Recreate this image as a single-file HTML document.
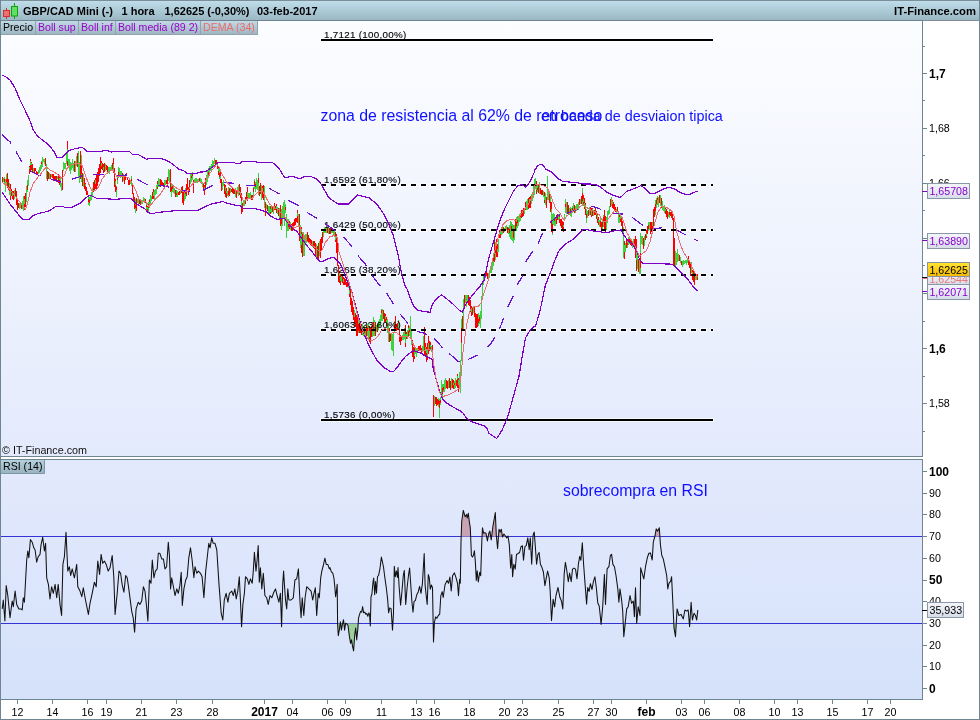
<!DOCTYPE html>
<html><head><meta charset="utf-8"><title>GBP/CAD Mini</title>
<style>
html,body{margin:0;padding:0;background:#fff;}
body{width:980px;height:720px;overflow:hidden;position:relative;font-family:"Liberation Sans",Arial,sans-serif;}
svg{position:absolute;left:0;top:0;display:block;}
text{font-family:"Liberation Sans",Arial,sans-serif;}
.hd{font-size:11px;font-weight:bold;fill:#000;}
.lg{font-size:10.6px;}
.an{font-size:10.67px;fill:#000;}
.ab{font-size:12px;font-weight:bold;fill:#000;}
.xn{font-size:10.67px;fill:#000;}
.xb{font-size:12px;font-weight:bold;fill:#000;}
.fib{font-size:9.8px;letter-spacing:0.3px;fill:#000;stroke:#000;stroke-width:0.12px;}
.note{fill:#1010ff;}
</style></head><body>
<svg width="980" height="720" viewBox="0 0 980 720" shape-rendering="auto">
<defs>
<linearGradient id="hdr" x1="0" y1="0" x2="0" y2="1">
<stop offset="0" stop-color="#c0deeb"/><stop offset="1" stop-color="#99b5c2"/></linearGradient>
<linearGradient id="leg" x1="0" y1="0" x2="0" y2="1">
<stop offset="0" stop-color="#c2dae6"/><stop offset="1" stop-color="#9cb4c0"/></linearGradient>
<linearGradient id="leg2" x1="0" y1="0" x2="0" y2="1">
<stop offset="0" stop-color="#b4d0dc"/><stop offset="1" stop-color="#98b3bf"/></linearGradient>
<linearGradient id="main" x1="0" y1="0" x2="0" y2="1">
<stop offset="0" stop-color="#fcfdff"/><stop offset="1" stop-color="#e3eafc"/></linearGradient>
<linearGradient id="rsi" x1="0" y1="0" x2="0" y2="1">
<stop offset="0" stop-color="#e3e9fd"/><stop offset="1" stop-color="#d5e2fa"/></linearGradient>
<linearGradient id="gold" x1="0" y1="0" x2="0" y2="1">
<stop offset="0" stop-color="#ffe433"/><stop offset="1" stop-color="#f5ba00"/></linearGradient>
<linearGradient id="lbl" x1="0" y1="0" x2="0" y2="1">
<stop offset="0" stop-color="#f4f6fb"/><stop offset="1" stop-color="#d6dde8"/></linearGradient>
</defs>
<rect x="0" y="0" width="980" height="720" fill="#fff"/>
<!-- header -->
<rect x="0" y="0" width="980" height="21" fill="url(#hdr)"/>
<line x1="0" y1="0.5" x2="980" y2="0.5" stroke="#7c8f99"/>
<line x1="0" y1="20.5" x2="980" y2="20.5" stroke="#7c8f99"/>
<!-- main panel -->
<rect x="1" y="21" width="921" height="435" fill="url(#main)"/>
<!-- rsi panel -->
<rect x="1" y="460" width="921" height="239" fill="url(#rsi)"/>
<line x1="320" y1="40" x2="714" y2="40" stroke="#fff" stroke-opacity="0.7" stroke-width="4"/><line x1="320" y1="185" x2="714" y2="185" stroke="#fff" stroke-opacity="0.7" stroke-width="4" stroke-dasharray="7 3"/><line x1="320" y1="230" x2="714" y2="230" stroke="#fff" stroke-opacity="0.7" stroke-width="4" stroke-dasharray="7 3"/><line x1="320" y1="275" x2="714" y2="275" stroke="#fff" stroke-opacity="0.7" stroke-width="4" stroke-dasharray="7 3"/><line x1="320" y1="330" x2="714" y2="330" stroke="#fff" stroke-opacity="0.7" stroke-width="4" stroke-dasharray="7 3"/><line x1="320" y1="420" x2="714" y2="420" stroke="#fff" stroke-opacity="0.7" stroke-width="4"/>
<!-- candles -->
<g shape-rendering="crispEdges"><rect x="2" y="177" width="1" height="6" fill="#ff0000"/>
<rect x="3" y="178" width="1" height="4" fill="#3fd23f"/>
<rect x="4" y="177" width="1" height="7" fill="#3fd23f"/>
<rect x="4" y="179" width="1" height="3" fill="#ff0000"/>
<rect x="5" y="179" width="1" height="13" fill="#3fd23f"/>
<rect x="6" y="174" width="1" height="12" fill="#3fd23f"/>
<rect x="6" y="179" width="1" height="3" fill="#ff0000"/>
<rect x="7" y="173" width="1" height="15" fill="#ff0000"/>
<rect x="8" y="179" width="1" height="11" fill="#ff0000"/>
<rect x="9" y="183" width="1" height="12" fill="#3fd23f"/>
<rect x="9" y="187" width="1" height="4" fill="#ff0000"/>
<rect x="10" y="184" width="1" height="16" fill="#ff0000"/>
<rect x="10" y="190" width="1" height="6" fill="#3fd23f"/>
<rect x="11" y="189" width="1" height="7" fill="#ff0000"/>
<rect x="12" y="191" width="1" height="8" fill="#ff0000"/>
<rect x="12" y="193" width="1" height="3" fill="#3fd23f"/>
<rect x="13" y="191" width="1" height="9" fill="#ff0000"/>
<rect x="14" y="190" width="1" height="9" fill="#3fd23f"/>
<rect x="15" y="188" width="1" height="9" fill="#ff0000"/>
<rect x="16" y="191" width="1" height="14" fill="#ff0000"/>
<rect x="17" y="198" width="1" height="12" fill="#ff0000"/>
<rect x="18" y="203" width="1" height="5" fill="#ff0000"/>
<rect x="19" y="203" width="1" height="6" fill="#3fd23f"/>
<rect x="20" y="203" width="1" height="5" fill="#3fd23f"/>
<rect x="21" y="204" width="1" height="5" fill="#ff0000"/>
<rect x="22" y="201" width="1" height="8" fill="#3fd23f"/>
<rect x="23" y="196" width="1" height="15" fill="#3fd23f"/>
<rect x="24" y="196" width="1" height="14" fill="#ff0000"/>
<rect x="24" y="199" width="1" height="5" fill="#3fd23f"/>
<rect x="25" y="193" width="1" height="14" fill="#ff0000"/>
<rect x="26" y="186" width="1" height="16" fill="#3fd23f"/>
<rect x="27" y="180" width="1" height="12" fill="#3fd23f"/>
<rect x="27" y="185" width="1" height="5" fill="#ff0000"/>
<rect x="28" y="175" width="1" height="11" fill="#3fd23f"/>
<rect x="29" y="166" width="1" height="8" fill="#ff0000"/>
<rect x="29" y="167" width="1" height="2" fill="#3fd23f"/>
<rect x="30" y="159" width="1" height="12" fill="#ff0000"/>
<rect x="30" y="161" width="1" height="4" fill="#3fd23f"/>
<rect x="31" y="162" width="1" height="8" fill="#ff0000"/>
<rect x="31" y="163" width="1" height="2" fill="#3fd23f"/>
<rect x="32" y="164" width="1" height="9" fill="#ff0000"/>
<rect x="33" y="168" width="1" height="5" fill="#3fd23f"/>
<rect x="34" y="168" width="1" height="5" fill="#ff0000"/>
<rect x="35" y="168" width="1" height="3" fill="#ff0000"/>
<rect x="36" y="171" width="1" height="3" fill="#ff0000"/>
<rect x="37" y="172" width="1" height="3" fill="#ff0000"/>
<rect x="38" y="170" width="1" height="4" fill="#3fd23f"/>
<rect x="39" y="167" width="1" height="6" fill="#3fd23f"/>
<rect x="40" y="165" width="1" height="6" fill="#3fd23f"/>
<rect x="41" y="161" width="1" height="8" fill="#3fd23f"/>
<rect x="41" y="162" width="1" height="2" fill="#ff0000"/>
<rect x="42" y="157" width="1" height="10" fill="#3fd23f"/>
<rect x="43" y="159" width="1" height="3" fill="#3fd23f"/>
<rect x="44" y="159" width="1" height="5" fill="#3fd23f"/>
<rect x="45" y="158" width="1" height="8" fill="#ff0000"/>
<rect x="46" y="164" width="1" height="15" fill="#3fd23f"/>
<rect x="47" y="171" width="1" height="10" fill="#ff0000"/>
<rect x="48" y="172" width="1" height="7" fill="#ff0000"/>
<rect x="49" y="173" width="1" height="6" fill="#3fd23f"/>
<rect x="50" y="174" width="1" height="5" fill="#ff0000"/>
<rect x="51" y="174" width="1" height="3" fill="#3fd23f"/>
<rect x="52" y="174" width="1" height="4" fill="#ff0000"/>
<rect x="53" y="174" width="1" height="7" fill="#ff0000"/>
<rect x="54" y="176" width="1" height="5" fill="#ff0000"/>
<rect x="55" y="176" width="1" height="5" fill="#ff0000"/>
<rect x="56" y="176" width="1" height="6" fill="#ff0000"/>
<rect x="57" y="176" width="1" height="3" fill="#3fd23f"/>
<rect x="58" y="174" width="1" height="9" fill="#ff0000"/>
<rect x="59" y="175" width="1" height="10" fill="#ff0000"/>
<rect x="59" y="178" width="1" height="2" fill="#3fd23f"/>
<rect x="60" y="178" width="1" height="9" fill="#3fd23f"/>
<rect x="61" y="183" width="1" height="8" fill="#3fd23f"/>
<rect x="62" y="170" width="1" height="20" fill="#ff0000"/>
<rect x="63" y="162" width="1" height="9" fill="#3fd23f"/>
<rect x="64" y="163" width="1" height="6" fill="#3fd23f"/>
<rect x="65" y="163" width="1" height="6" fill="#3fd23f"/>
<rect x="66" y="154" width="1" height="10" fill="#3fd23f"/>
<rect x="67" y="141" width="1" height="25" fill="#ff0000"/>
<rect x="67" y="149" width="1" height="12" fill="#3fd23f"/>
<rect x="68" y="159" width="1" height="9" fill="#3fd23f"/>
<rect x="69" y="159" width="1" height="12" fill="#3fd23f"/>
<rect x="70" y="162" width="1" height="12" fill="#3fd23f"/>
<rect x="71" y="163" width="1" height="7" fill="#3fd23f"/>
<rect x="72" y="159" width="1" height="9" fill="#3fd23f"/>
<rect x="73" y="163" width="1" height="8" fill="#3fd23f"/>
<rect x="74" y="161" width="1" height="11" fill="#ff0000"/>
<rect x="75" y="161" width="1" height="11" fill="#3fd23f"/>
<rect x="76" y="156" width="1" height="10" fill="#3fd23f"/>
<rect x="77" y="153" width="1" height="14" fill="#ff0000"/>
<rect x="78" y="151" width="1" height="27" fill="#3fd23f"/>
<rect x="79" y="162" width="1" height="21" fill="#3fd23f"/>
<rect x="80" y="151" width="1" height="28" fill="#ff0000"/>
<rect x="81" y="155" width="1" height="27" fill="#3fd23f"/>
<rect x="81" y="165" width="1" height="9" fill="#ff0000"/>
<rect x="82" y="173" width="1" height="13" fill="#ff0000"/>
<rect x="83" y="174" width="1" height="13" fill="#3fd23f"/>
<rect x="84" y="178" width="1" height="11" fill="#ff0000"/>
<rect x="85" y="183" width="1" height="8" fill="#ff0000"/>
<rect x="85" y="184" width="1" height="2" fill="#3fd23f"/>
<rect x="86" y="187" width="1" height="8" fill="#ff0000"/>
<rect x="87" y="191" width="1" height="4" fill="#ff0000"/>
<rect x="88" y="196" width="1" height="9" fill="#3fd23f"/>
<rect x="88" y="199" width="1" height="3" fill="#ff0000"/>
<rect x="89" y="197" width="1" height="9" fill="#3fd23f"/>
<rect x="89" y="200" width="1" height="3" fill="#ff0000"/>
<rect x="90" y="195" width="1" height="6" fill="#3fd23f"/>
<rect x="91" y="192" width="1" height="8" fill="#3fd23f"/>
<rect x="92" y="188" width="1" height="8" fill="#3fd23f"/>
<rect x="93" y="182" width="1" height="10" fill="#ff0000"/>
<rect x="94" y="180" width="1" height="11" fill="#ff0000"/>
<rect x="95" y="178" width="1" height="11" fill="#ff0000"/>
<rect x="95" y="180" width="1" height="4" fill="#3fd23f"/>
<rect x="96" y="175" width="1" height="14" fill="#ff0000"/>
<rect x="97" y="172" width="1" height="14" fill="#ff0000"/>
<rect x="98" y="168" width="1" height="14" fill="#ff0000"/>
<rect x="99" y="164" width="1" height="12" fill="#ff0000"/>
<rect x="100" y="157" width="1" height="16" fill="#ff0000"/>
<rect x="101" y="161" width="1" height="8" fill="#ff0000"/>
<rect x="101" y="163" width="1" height="3" fill="#3fd23f"/>
<rect x="102" y="163" width="1" height="7" fill="#ff0000"/>
<rect x="103" y="164" width="1" height="9" fill="#ff0000"/>
<rect x="103" y="167" width="1" height="3" fill="#3fd23f"/>
<rect x="104" y="163" width="1" height="9" fill="#ff0000"/>
<rect x="105" y="164" width="1" height="7" fill="#3fd23f"/>
<rect x="106" y="165" width="1" height="5" fill="#ff0000"/>
<rect x="107" y="166" width="1" height="6" fill="#ff0000"/>
<rect x="108" y="167" width="1" height="5" fill="#3fd23f"/>
<rect x="109" y="167" width="1" height="7" fill="#3fd23f"/>
<rect x="110" y="167" width="1" height="4" fill="#3fd23f"/>
<rect x="111" y="165" width="1" height="4" fill="#3fd23f"/>
<rect x="112" y="163" width="1" height="6" fill="#ff0000"/>
<rect x="113" y="158" width="1" height="15" fill="#ff0000"/>
<rect x="113" y="164" width="1" height="7" fill="#3fd23f"/>
<rect x="114" y="168" width="1" height="19" fill="#ff0000"/>
<rect x="115" y="179" width="1" height="13" fill="#ff0000"/>
<rect x="115" y="181" width="1" height="4" fill="#3fd23f"/>
<rect x="116" y="186" width="1" height="11" fill="#3fd23f"/>
<rect x="116" y="187" width="1" height="3" fill="#ff0000"/>
<rect x="117" y="176" width="1" height="8" fill="#3fd23f"/>
<rect x="117" y="178" width="1" height="2" fill="#ff0000"/>
<rect x="118" y="167" width="1" height="11" fill="#3fd23f"/>
<rect x="118" y="172" width="1" height="5" fill="#ff0000"/>
<rect x="119" y="168" width="1" height="9" fill="#3fd23f"/>
<rect x="120" y="171" width="1" height="7" fill="#3fd23f"/>
<rect x="121" y="171" width="1" height="5" fill="#3fd23f"/>
<rect x="122" y="173" width="1" height="9" fill="#ff0000"/>
<rect x="123" y="174" width="1" height="7" fill="#3fd23f"/>
<rect x="124" y="177" width="1" height="7" fill="#ff0000"/>
<rect x="125" y="176" width="1" height="4" fill="#ff0000"/>
<rect x="126" y="173" width="1" height="3" fill="#ff0000"/>
<rect x="127" y="177" width="1" height="3" fill="#ff0000"/>
<rect x="128" y="180" width="1" height="5" fill="#ff0000"/>
<rect x="129" y="180" width="1" height="5" fill="#ff0000"/>
<rect x="130" y="180" width="1" height="4" fill="#3fd23f"/>
<rect x="131" y="176" width="1" height="10" fill="#3fd23f"/>
<rect x="131" y="179" width="1" height="2" fill="#ff0000"/>
<rect x="132" y="185" width="1" height="9" fill="#ff0000"/>
<rect x="133" y="193" width="1" height="8" fill="#ff0000"/>
<rect x="134" y="197" width="1" height="12" fill="#ff0000"/>
<rect x="135" y="199" width="1" height="14" fill="#3fd23f"/>
<rect x="135" y="205" width="1" height="3" fill="#ff0000"/>
<rect x="136" y="198" width="1" height="13" fill="#ff0000"/>
<rect x="137" y="199" width="1" height="4" fill="#3fd23f"/>
<rect x="138" y="199" width="1" height="5" fill="#3fd23f"/>
<rect x="139" y="199" width="1" height="5" fill="#ff0000"/>
<rect x="140" y="200" width="1" height="5" fill="#ff0000"/>
<rect x="141" y="200" width="1" height="4" fill="#3fd23f"/>
<rect x="142" y="200" width="1" height="4" fill="#3fd23f"/>
<rect x="143" y="197" width="1" height="5" fill="#3fd23f"/>
<rect x="144" y="198" width="1" height="5" fill="#3fd23f"/>
<rect x="145" y="199" width="1" height="4" fill="#ff0000"/>
<rect x="146" y="203" width="1" height="8" fill="#3fd23f"/>
<rect x="146" y="205" width="1" height="2" fill="#ff0000"/>
<rect x="147" y="206" width="1" height="7" fill="#ff0000"/>
<rect x="147" y="207" width="1" height="2" fill="#3fd23f"/>
<rect x="148" y="202" width="1" height="10" fill="#3fd23f"/>
<rect x="148" y="204" width="1" height="4" fill="#ff0000"/>
<rect x="149" y="199" width="1" height="9" fill="#3fd23f"/>
<rect x="149" y="200" width="1" height="2" fill="#ff0000"/>
<rect x="150" y="195" width="1" height="9" fill="#3fd23f"/>
<rect x="151" y="196" width="1" height="5" fill="#3fd23f"/>
<rect x="152" y="192" width="1" height="7" fill="#ff0000"/>
<rect x="153" y="189" width="1" height="10" fill="#ff0000"/>
<rect x="153" y="192" width="1" height="4" fill="#3fd23f"/>
<rect x="154" y="190" width="1" height="10" fill="#3fd23f"/>
<rect x="155" y="189" width="1" height="6" fill="#3fd23f"/>
<rect x="156" y="185" width="1" height="9" fill="#3fd23f"/>
<rect x="157" y="181" width="1" height="8" fill="#ff0000"/>
<rect x="157" y="184" width="1" height="3" fill="#3fd23f"/>
<rect x="158" y="178" width="1" height="9" fill="#3fd23f"/>
<rect x="159" y="179" width="1" height="8" fill="#3fd23f"/>
<rect x="160" y="179" width="1" height="8" fill="#ff0000"/>
<rect x="161" y="180" width="1" height="5" fill="#ff0000"/>
<rect x="162" y="182" width="1" height="3" fill="#ff0000"/>
<rect x="163" y="183" width="1" height="4" fill="#ff0000"/>
<rect x="164" y="180" width="1" height="6" fill="#3fd23f"/>
<rect x="165" y="180" width="1" height="5" fill="#3fd23f"/>
<rect x="166" y="180" width="1" height="4" fill="#ff0000"/>
<rect x="167" y="177" width="1" height="10" fill="#ff0000"/>
<rect x="168" y="169" width="1" height="12" fill="#3fd23f"/>
<rect x="169" y="170" width="1" height="13" fill="#3fd23f"/>
<rect x="170" y="169" width="1" height="23" fill="#ff0000"/>
<rect x="171" y="184" width="1" height="13" fill="#3fd23f"/>
<rect x="171" y="187" width="1" height="4" fill="#ff0000"/>
<rect x="172" y="185" width="1" height="7" fill="#3fd23f"/>
<rect x="172" y="186" width="1" height="3" fill="#ff0000"/>
<rect x="173" y="186" width="1" height="7" fill="#3fd23f"/>
<rect x="174" y="188" width="1" height="6" fill="#3fd23f"/>
<rect x="175" y="190" width="1" height="7" fill="#ff0000"/>
<rect x="176" y="190" width="1" height="7" fill="#3fd23f"/>
<rect x="176" y="193" width="1" height="2" fill="#ff0000"/>
<rect x="177" y="191" width="1" height="6" fill="#3fd23f"/>
<rect x="178" y="192" width="1" height="3" fill="#ff0000"/>
<rect x="179" y="191" width="1" height="4" fill="#ff0000"/>
<rect x="180" y="191" width="1" height="3" fill="#3fd23f"/>
<rect x="181" y="187" width="1" height="6" fill="#ff0000"/>
<rect x="182" y="186" width="1" height="17" fill="#ff0000"/>
<rect x="183" y="191" width="1" height="14" fill="#ff0000"/>
<rect x="184" y="192" width="1" height="9" fill="#3fd23f"/>
<rect x="185" y="188" width="1" height="11" fill="#3fd23f"/>
<rect x="185" y="190" width="1" height="4" fill="#ff0000"/>
<rect x="186" y="184" width="1" height="12" fill="#ff0000"/>
<rect x="187" y="178" width="1" height="12" fill="#ff0000"/>
<rect x="188" y="187" width="1" height="8" fill="#ff0000"/>
<rect x="189" y="180" width="1" height="12" fill="#ff0000"/>
<rect x="190" y="174" width="1" height="10" fill="#3fd23f"/>
<rect x="191" y="174" width="1" height="8" fill="#3fd23f"/>
<rect x="191" y="176" width="1" height="2" fill="#ff0000"/>
<rect x="192" y="172" width="1" height="8" fill="#3fd23f"/>
<rect x="192" y="173" width="1" height="3" fill="#ff0000"/>
<rect x="193" y="180" width="1" height="13" fill="#ff0000"/>
<rect x="194" y="179" width="1" height="4" fill="#3fd23f"/>
<rect x="195" y="178" width="1" height="5" fill="#3fd23f"/>
<rect x="196" y="178" width="1" height="5" fill="#3fd23f"/>
<rect x="197" y="179" width="1" height="4" fill="#3fd23f"/>
<rect x="198" y="179" width="1" height="3" fill="#3fd23f"/>
<rect x="199" y="178" width="1" height="4" fill="#ff0000"/>
<rect x="200" y="178" width="1" height="5" fill="#3fd23f"/>
<rect x="201" y="179" width="1" height="5" fill="#3fd23f"/>
<rect x="202" y="182" width="1" height="5" fill="#3fd23f"/>
<rect x="203" y="183" width="1" height="6" fill="#ff0000"/>
<rect x="204" y="185" width="1" height="10" fill="#ff0000"/>
<rect x="204" y="187" width="1" height="3" fill="#3fd23f"/>
<rect x="205" y="178" width="1" height="10" fill="#ff0000"/>
<rect x="206" y="175" width="1" height="10" fill="#3fd23f"/>
<rect x="207" y="170" width="1" height="12" fill="#3fd23f"/>
<rect x="208" y="168" width="1" height="10" fill="#3fd23f"/>
<rect x="208" y="172" width="1" height="3" fill="#ff0000"/>
<rect x="209" y="166" width="1" height="10" fill="#3fd23f"/>
<rect x="210" y="166" width="1" height="5" fill="#3fd23f"/>
<rect x="211" y="164" width="1" height="6" fill="#3fd23f"/>
<rect x="212" y="160" width="1" height="7" fill="#3fd23f"/>
<rect x="213" y="161" width="1" height="6" fill="#3fd23f"/>
<rect x="214" y="158" width="1" height="6" fill="#3fd23f"/>
<rect x="215" y="160" width="1" height="4" fill="#ff0000"/>
<rect x="216" y="160" width="1" height="5" fill="#ff0000"/>
<rect x="217" y="162" width="1" height="7" fill="#ff0000"/>
<rect x="217" y="164" width="1" height="2" fill="#3fd23f"/>
<rect x="218" y="166" width="1" height="9" fill="#ff0000"/>
<rect x="218" y="168" width="1" height="3" fill="#3fd23f"/>
<rect x="219" y="169" width="1" height="10" fill="#3fd23f"/>
<rect x="219" y="173" width="1" height="4" fill="#ff0000"/>
<rect x="220" y="172" width="1" height="11" fill="#ff0000"/>
<rect x="220" y="176" width="1" height="3" fill="#3fd23f"/>
<rect x="221" y="179" width="1" height="12" fill="#ff0000"/>
<rect x="222" y="182" width="1" height="8" fill="#3fd23f"/>
<rect x="223" y="180" width="1" height="6" fill="#3fd23f"/>
<rect x="224" y="184" width="1" height="10" fill="#ff0000"/>
<rect x="225" y="185" width="1" height="12" fill="#ff0000"/>
<rect x="225" y="187" width="1" height="4" fill="#3fd23f"/>
<rect x="226" y="188" width="1" height="10" fill="#ff0000"/>
<rect x="226" y="191" width="1" height="2" fill="#3fd23f"/>
<rect x="227" y="191" width="1" height="5" fill="#3fd23f"/>
<rect x="228" y="187" width="1" height="10" fill="#3fd23f"/>
<rect x="228" y="191" width="1" height="4" fill="#ff0000"/>
<rect x="229" y="188" width="1" height="8" fill="#ff0000"/>
<rect x="230" y="188" width="1" height="5" fill="#3fd23f"/>
<rect x="231" y="189" width="1" height="3" fill="#ff0000"/>
<rect x="232" y="188" width="1" height="5" fill="#ff0000"/>
<rect x="233" y="189" width="1" height="5" fill="#ff0000"/>
<rect x="234" y="189" width="1" height="5" fill="#ff0000"/>
<rect x="235" y="188" width="1" height="9" fill="#3fd23f"/>
<rect x="236" y="190" width="1" height="8" fill="#ff0000"/>
<rect x="237" y="187" width="1" height="7" fill="#3fd23f"/>
<rect x="238" y="185" width="1" height="11" fill="#3fd23f"/>
<rect x="239" y="184" width="1" height="11" fill="#ff0000"/>
<rect x="240" y="187" width="1" height="11" fill="#ff0000"/>
<rect x="241" y="193" width="1" height="21" fill="#ff0000"/>
<rect x="241" y="201" width="1" height="5" fill="#3fd23f"/>
<rect x="242" y="203" width="1" height="9" fill="#ff0000"/>
<rect x="243" y="201" width="1" height="5" fill="#3fd23f"/>
<rect x="244" y="200" width="1" height="6" fill="#3fd23f"/>
<rect x="245" y="197" width="1" height="7" fill="#ff0000"/>
<rect x="245" y="199" width="1" height="2" fill="#3fd23f"/>
<rect x="246" y="192" width="1" height="7" fill="#ff0000"/>
<rect x="247" y="187" width="1" height="14" fill="#ff0000"/>
<rect x="247" y="192" width="1" height="5" fill="#3fd23f"/>
<rect x="248" y="193" width="1" height="5" fill="#3fd23f"/>
<rect x="249" y="193" width="1" height="5" fill="#3fd23f"/>
<rect x="250" y="192" width="1" height="7" fill="#3fd23f"/>
<rect x="251" y="195" width="1" height="5" fill="#ff0000"/>
<rect x="252" y="195" width="1" height="5" fill="#ff0000"/>
<rect x="253" y="187" width="1" height="9" fill="#3fd23f"/>
<rect x="253" y="188" width="1" height="4" fill="#ff0000"/>
<rect x="254" y="179" width="1" height="10" fill="#3fd23f"/>
<rect x="254" y="181" width="1" height="4" fill="#ff0000"/>
<rect x="255" y="182" width="1" height="10" fill="#3fd23f"/>
<rect x="255" y="184" width="1" height="3" fill="#ff0000"/>
<rect x="256" y="178" width="1" height="11" fill="#3fd23f"/>
<rect x="257" y="180" width="1" height="10" fill="#3fd23f"/>
<rect x="258" y="173" width="1" height="22" fill="#3fd23f"/>
<rect x="258" y="178" width="1" height="5" fill="#ff0000"/>
<rect x="259" y="186" width="1" height="10" fill="#ff0000"/>
<rect x="260" y="183" width="1" height="11" fill="#ff0000"/>
<rect x="261" y="185" width="1" height="15" fill="#3fd23f"/>
<rect x="262" y="186" width="1" height="12" fill="#ff0000"/>
<rect x="262" y="188" width="1" height="3" fill="#3fd23f"/>
<rect x="263" y="185" width="1" height="15" fill="#ff0000"/>
<rect x="264" y="186" width="1" height="22" fill="#3fd23f"/>
<rect x="265" y="202" width="1" height="14" fill="#ff0000"/>
<rect x="266" y="204" width="1" height="5" fill="#3fd23f"/>
<rect x="267" y="205" width="1" height="6" fill="#ff0000"/>
<rect x="268" y="206" width="1" height="8" fill="#3fd23f"/>
<rect x="269" y="206" width="1" height="8" fill="#3fd23f"/>
<rect x="270" y="206" width="1" height="8" fill="#ff0000"/>
<rect x="270" y="209" width="1" height="3" fill="#3fd23f"/>
<rect x="271" y="206" width="1" height="7" fill="#3fd23f"/>
<rect x="272" y="207" width="1" height="5" fill="#ff0000"/>
<rect x="273" y="208" width="1" height="6" fill="#3fd23f"/>
<rect x="274" y="203" width="1" height="7" fill="#ff0000"/>
<rect x="274" y="206" width="1" height="3" fill="#3fd23f"/>
<rect x="275" y="206" width="1" height="4" fill="#ff0000"/>
<rect x="276" y="204" width="1" height="9" fill="#ff0000"/>
<rect x="276" y="206" width="1" height="3" fill="#3fd23f"/>
<rect x="277" y="207" width="1" height="7" fill="#3fd23f"/>
<rect x="278" y="208" width="1" height="8" fill="#ff0000"/>
<rect x="279" y="208" width="1" height="12" fill="#3fd23f"/>
<rect x="280" y="205" width="1" height="21" fill="#ff0000"/>
<rect x="281" y="209" width="1" height="21" fill="#3fd23f"/>
<rect x="281" y="218" width="1" height="6" fill="#ff0000"/>
<rect x="282" y="206" width="1" height="20" fill="#3fd23f"/>
<rect x="283" y="202" width="1" height="16" fill="#3fd23f"/>
<rect x="284" y="200" width="1" height="26" fill="#3fd23f"/>
<rect x="285" y="204" width="1" height="9" fill="#3fd23f"/>
<rect x="285" y="207" width="1" height="3" fill="#ff0000"/>
<rect x="286" y="214" width="1" height="24" fill="#3fd23f"/>
<rect x="287" y="219" width="1" height="12" fill="#3fd23f"/>
<rect x="288" y="219" width="1" height="12" fill="#3fd23f"/>
<rect x="288" y="224" width="1" height="3" fill="#ff0000"/>
<rect x="289" y="221" width="1" height="8" fill="#ff0000"/>
<rect x="290" y="222" width="1" height="8" fill="#3fd23f"/>
<rect x="291" y="224" width="1" height="7" fill="#ff0000"/>
<rect x="292" y="223" width="1" height="8" fill="#ff0000"/>
<rect x="293" y="222" width="1" height="7" fill="#ff0000"/>
<rect x="294" y="219" width="1" height="7" fill="#ff0000"/>
<rect x="295" y="218" width="1" height="7" fill="#ff0000"/>
<rect x="296" y="218" width="1" height="4" fill="#ff0000"/>
<rect x="297" y="210" width="1" height="13" fill="#ff0000"/>
<rect x="297" y="213" width="1" height="3" fill="#3fd23f"/>
<rect x="298" y="214" width="1" height="13" fill="#3fd23f"/>
<rect x="299" y="214" width="1" height="27" fill="#ff0000"/>
<rect x="300" y="225" width="1" height="23" fill="#3fd23f"/>
<rect x="301" y="227" width="1" height="26" fill="#ff0000"/>
<rect x="301" y="234" width="1" height="11" fill="#3fd23f"/>
<rect x="302" y="234" width="1" height="23" fill="#ff0000"/>
<rect x="303" y="232" width="1" height="24" fill="#3fd23f"/>
<rect x="304" y="235" width="1" height="21" fill="#3fd23f"/>
<rect x="305" y="234" width="1" height="11" fill="#3fd23f"/>
<rect x="306" y="234" width="1" height="9" fill="#3fd23f"/>
<rect x="307" y="232" width="1" height="10" fill="#ff0000"/>
<rect x="308" y="235" width="1" height="8" fill="#ff0000"/>
<rect x="309" y="238" width="1" height="5" fill="#ff0000"/>
<rect x="310" y="239" width="1" height="6" fill="#ff0000"/>
<rect x="311" y="240" width="1" height="6" fill="#ff0000"/>
<rect x="312" y="241" width="1" height="6" fill="#3fd23f"/>
<rect x="313" y="241" width="1" height="7" fill="#ff0000"/>
<rect x="314" y="241" width="1" height="8" fill="#ff0000"/>
<rect x="315" y="243" width="1" height="13" fill="#ff0000"/>
<rect x="316" y="244" width="1" height="13" fill="#3fd23f"/>
<rect x="317" y="246" width="1" height="13" fill="#ff0000"/>
<rect x="318" y="243" width="1" height="16" fill="#ff0000"/>
<rect x="319" y="241" width="1" height="15" fill="#3fd23f"/>
<rect x="320" y="239" width="1" height="19" fill="#ff0000"/>
<rect x="321" y="237" width="1" height="13" fill="#ff0000"/>
<rect x="322" y="232" width="1" height="11" fill="#ff0000"/>
<rect x="323" y="230" width="1" height="7" fill="#3fd23f"/>
<rect x="324" y="228" width="1" height="5" fill="#3fd23f"/>
<rect x="325" y="228" width="1" height="5" fill="#3fd23f"/>
<rect x="326" y="227" width="1" height="6" fill="#3fd23f"/>
<rect x="327" y="228" width="1" height="5" fill="#ff0000"/>
<rect x="328" y="228" width="1" height="6" fill="#3fd23f"/>
<rect x="329" y="228" width="1" height="6" fill="#ff0000"/>
<rect x="330" y="228" width="1" height="6" fill="#ff0000"/>
<rect x="331" y="229" width="1" height="4" fill="#3fd23f"/>
<rect x="332" y="230" width="1" height="3" fill="#3fd23f"/>
<rect x="333" y="231" width="1" height="5" fill="#3fd23f"/>
<rect x="334" y="231" width="1" height="6" fill="#3fd23f"/>
<rect x="335" y="232" width="1" height="10" fill="#ff0000"/>
<rect x="335" y="236" width="1" height="4" fill="#3fd23f"/>
<rect x="336" y="234" width="1" height="19" fill="#ff0000"/>
<rect x="337" y="238" width="1" height="28" fill="#ff0000"/>
<rect x="338" y="265" width="1" height="17" fill="#ff0000"/>
<rect x="339" y="271" width="1" height="12" fill="#ff0000"/>
<rect x="339" y="273" width="1" height="3" fill="#3fd23f"/>
<rect x="340" y="274" width="1" height="11" fill="#ff0000"/>
<rect x="340" y="277" width="1" height="4" fill="#3fd23f"/>
<rect x="341" y="275" width="1" height="7" fill="#3fd23f"/>
<rect x="342" y="276" width="1" height="7" fill="#ff0000"/>
<rect x="343" y="277" width="1" height="8" fill="#ff0000"/>
<rect x="343" y="279" width="1" height="3" fill="#3fd23f"/>
<rect x="344" y="278" width="1" height="7" fill="#ff0000"/>
<rect x="345" y="279" width="1" height="6" fill="#ff0000"/>
<rect x="346" y="282" width="1" height="5" fill="#ff0000"/>
<rect x="347" y="282" width="1" height="5" fill="#ff0000"/>
<rect x="348" y="284" width="1" height="4" fill="#3fd23f"/>
<rect x="349" y="285" width="1" height="12" fill="#ff0000"/>
<rect x="349" y="290" width="1" height="4" fill="#3fd23f"/>
<rect x="350" y="286" width="1" height="19" fill="#ff0000"/>
<rect x="351" y="298" width="1" height="14" fill="#ff0000"/>
<rect x="352" y="301" width="1" height="14" fill="#ff0000"/>
<rect x="353" y="307" width="1" height="13" fill="#ff0000"/>
<rect x="354" y="310" width="1" height="15" fill="#3fd23f"/>
<rect x="354" y="317" width="1" height="6" fill="#ff0000"/>
<rect x="355" y="313" width="1" height="14" fill="#ff0000"/>
<rect x="356" y="315" width="1" height="21" fill="#ff0000"/>
<rect x="357" y="316" width="1" height="20" fill="#ff0000"/>
<rect x="358" y="318" width="1" height="15" fill="#3fd23f"/>
<rect x="358" y="324" width="1" height="7" fill="#ff0000"/>
<rect x="359" y="321" width="1" height="12" fill="#ff0000"/>
<rect x="360" y="322" width="1" height="11" fill="#ff0000"/>
<rect x="361" y="324" width="1" height="11" fill="#ff0000"/>
<rect x="362" y="324" width="1" height="11" fill="#3fd23f"/>
<rect x="362" y="328" width="1" height="4" fill="#ff0000"/>
<rect x="363" y="327" width="1" height="9" fill="#3fd23f"/>
<rect x="364" y="327" width="1" height="9" fill="#ff0000"/>
<rect x="365" y="327" width="1" height="11" fill="#3fd23f"/>
<rect x="365" y="329" width="1" height="2" fill="#ff0000"/>
<rect x="366" y="325" width="1" height="11" fill="#ff0000"/>
<rect x="367" y="324" width="1" height="12" fill="#3fd23f"/>
<rect x="367" y="328" width="1" height="3" fill="#ff0000"/>
<rect x="368" y="323" width="1" height="17" fill="#3fd23f"/>
<rect x="369" y="326" width="1" height="16" fill="#ff0000"/>
<rect x="369" y="331" width="1" height="6" fill="#3fd23f"/>
<rect x="370" y="328" width="1" height="16" fill="#ff0000"/>
<rect x="371" y="326" width="1" height="11" fill="#ff0000"/>
<rect x="372" y="324" width="1" height="13" fill="#3fd23f"/>
<rect x="373" y="317" width="1" height="19" fill="#3fd23f"/>
<rect x="373" y="322" width="1" height="7" fill="#ff0000"/>
<rect x="374" y="320" width="1" height="16" fill="#3fd23f"/>
<rect x="375" y="322" width="1" height="14" fill="#ff0000"/>
<rect x="376" y="325" width="1" height="7" fill="#3fd23f"/>
<rect x="377" y="324" width="1" height="8" fill="#ff0000"/>
<rect x="378" y="321" width="1" height="9" fill="#3fd23f"/>
<rect x="379" y="319" width="1" height="8" fill="#3fd23f"/>
<rect x="380" y="315" width="1" height="10" fill="#3fd23f"/>
<rect x="381" y="309" width="1" height="12" fill="#3fd23f"/>
<rect x="381" y="310" width="1" height="3" fill="#ff0000"/>
<rect x="382" y="309" width="1" height="12" fill="#3fd23f"/>
<rect x="383" y="310" width="1" height="9" fill="#ff0000"/>
<rect x="384" y="313" width="1" height="9" fill="#ff0000"/>
<rect x="385" y="314" width="1" height="8" fill="#ff0000"/>
<rect x="385" y="316" width="1" height="3" fill="#3fd23f"/>
<rect x="386" y="317" width="1" height="9" fill="#ff0000"/>
<rect x="386" y="320" width="1" height="3" fill="#3fd23f"/>
<rect x="387" y="319" width="1" height="14" fill="#3fd23f"/>
<rect x="388" y="324" width="1" height="18" fill="#3fd23f"/>
<rect x="389" y="328" width="1" height="14" fill="#ff0000"/>
<rect x="390" y="333" width="1" height="8" fill="#ff0000"/>
<rect x="391" y="334" width="1" height="16" fill="#3fd23f"/>
<rect x="392" y="334" width="1" height="17" fill="#3fd23f"/>
<rect x="393" y="332" width="1" height="24" fill="#3fd23f"/>
<rect x="394" y="321" width="1" height="12" fill="#3fd23f"/>
<rect x="394" y="325" width="1" height="4" fill="#ff0000"/>
<rect x="395" y="316" width="1" height="14" fill="#ff0000"/>
<rect x="396" y="324" width="1" height="7" fill="#ff0000"/>
<rect x="396" y="326" width="1" height="2" fill="#3fd23f"/>
<rect x="397" y="323" width="1" height="7" fill="#ff0000"/>
<rect x="398" y="320" width="1" height="10" fill="#3fd23f"/>
<rect x="398" y="321" width="1" height="2" fill="#ff0000"/>
<rect x="399" y="329" width="1" height="13" fill="#ff0000"/>
<rect x="400" y="335" width="1" height="10" fill="#ff0000"/>
<rect x="401" y="336" width="1" height="5" fill="#ff0000"/>
<rect x="402" y="335" width="1" height="5" fill="#3fd23f"/>
<rect x="403" y="332" width="1" height="8" fill="#3fd23f"/>
<rect x="404" y="328" width="1" height="11" fill="#3fd23f"/>
<rect x="405" y="325" width="1" height="22" fill="#ff0000"/>
<rect x="405" y="334" width="1" height="9" fill="#3fd23f"/>
<rect x="406" y="332" width="1" height="7" fill="#ff0000"/>
<rect x="406" y="334" width="1" height="3" fill="#3fd23f"/>
<rect x="407" y="330" width="1" height="9" fill="#3fd23f"/>
<rect x="408" y="325" width="1" height="12" fill="#ff0000"/>
<rect x="408" y="328" width="1" height="3" fill="#3fd23f"/>
<rect x="409" y="326" width="1" height="10" fill="#3fd23f"/>
<rect x="409" y="330" width="1" height="2" fill="#ff0000"/>
<rect x="410" y="316" width="1" height="23" fill="#3fd23f"/>
<rect x="411" y="330" width="1" height="15" fill="#3fd23f"/>
<rect x="412" y="340" width="1" height="17" fill="#ff0000"/>
<rect x="413" y="347" width="1" height="15" fill="#ff0000"/>
<rect x="414" y="348" width="1" height="11" fill="#ff0000"/>
<rect x="414" y="352" width="1" height="4" fill="#3fd23f"/>
<rect x="415" y="348" width="1" height="6" fill="#3fd23f"/>
<rect x="416" y="349" width="1" height="8" fill="#3fd23f"/>
<rect x="417" y="348" width="1" height="4" fill="#3fd23f"/>
<rect x="418" y="346" width="1" height="5" fill="#ff0000"/>
<rect x="419" y="346" width="1" height="5" fill="#ff0000"/>
<rect x="420" y="345" width="1" height="6" fill="#ff0000"/>
<rect x="421" y="348" width="1" height="5" fill="#ff0000"/>
<rect x="422" y="346" width="1" height="6" fill="#3fd23f"/>
<rect x="423" y="336" width="1" height="15" fill="#3fd23f"/>
<rect x="424" y="327" width="1" height="28" fill="#ff0000"/>
<rect x="425" y="343" width="1" height="14" fill="#ff0000"/>
<rect x="425" y="347" width="1" height="3" fill="#3fd23f"/>
<rect x="426" y="347" width="1" height="15" fill="#ff0000"/>
<rect x="426" y="349" width="1" height="4" fill="#3fd23f"/>
<rect x="427" y="343" width="1" height="17" fill="#ff0000"/>
<rect x="427" y="349" width="1" height="7" fill="#3fd23f"/>
<rect x="428" y="336" width="1" height="18" fill="#ff0000"/>
<rect x="428" y="343" width="1" height="6" fill="#3fd23f"/>
<rect x="429" y="341" width="1" height="10" fill="#ff0000"/>
<rect x="430" y="342" width="1" height="7" fill="#ff0000"/>
<rect x="430" y="345" width="1" height="2" fill="#3fd23f"/>
<rect x="431" y="346" width="1" height="6" fill="#3fd23f"/>
<rect x="432" y="345" width="1" height="5" fill="#ff0000"/>
<rect x="433" y="395" width="1" height="22" fill="#ff0000"/>
<rect x="434" y="396" width="1" height="10" fill="#3fd23f"/>
<rect x="435" y="397" width="1" height="7" fill="#ff0000"/>
<rect x="436" y="397" width="1" height="9" fill="#ff0000"/>
<rect x="437" y="399" width="1" height="6" fill="#ff0000"/>
<rect x="438" y="398" width="1" height="9" fill="#3fd23f"/>
<rect x="438" y="400" width="1" height="4" fill="#ff0000"/>
<rect x="439" y="399" width="1" height="19" fill="#3fd23f"/>
<rect x="439" y="401" width="1" height="7" fill="#ff0000"/>
<rect x="440" y="397" width="1" height="8" fill="#3fd23f"/>
<rect x="440" y="400" width="1" height="3" fill="#ff0000"/>
<rect x="441" y="380" width="1" height="17" fill="#3fd23f"/>
<rect x="442" y="384" width="1" height="13" fill="#3fd23f"/>
<rect x="442" y="388" width="1" height="6" fill="#ff0000"/>
<rect x="443" y="384" width="1" height="8" fill="#3fd23f"/>
<rect x="443" y="387" width="1" height="3" fill="#ff0000"/>
<rect x="444" y="380" width="1" height="12" fill="#3fd23f"/>
<rect x="445" y="378" width="1" height="11" fill="#3fd23f"/>
<rect x="446" y="380" width="1" height="8" fill="#ff0000"/>
<rect x="447" y="381" width="1" height="8" fill="#ff0000"/>
<rect x="448" y="380" width="1" height="8" fill="#3fd23f"/>
<rect x="449" y="378" width="1" height="10" fill="#ff0000"/>
<rect x="450" y="381" width="1" height="9" fill="#ff0000"/>
<rect x="451" y="378" width="1" height="10" fill="#3fd23f"/>
<rect x="452" y="379" width="1" height="9" fill="#ff0000"/>
<rect x="453" y="380" width="1" height="9" fill="#ff0000"/>
<rect x="453" y="383" width="1" height="2" fill="#3fd23f"/>
<rect x="454" y="381" width="1" height="8" fill="#3fd23f"/>
<rect x="454" y="383" width="1" height="2" fill="#ff0000"/>
<rect x="455" y="378" width="1" height="10" fill="#3fd23f"/>
<rect x="456" y="380" width="1" height="6" fill="#ff0000"/>
<rect x="457" y="374" width="1" height="14" fill="#ff0000"/>
<rect x="457" y="376" width="1" height="3" fill="#3fd23f"/>
<rect x="458" y="378" width="1" height="14" fill="#ff0000"/>
<rect x="458" y="380" width="1" height="5" fill="#3fd23f"/>
<rect x="459" y="372" width="1" height="17" fill="#3fd23f"/>
<rect x="460" y="360" width="1" height="33" fill="#3fd23f"/>
<rect x="461" y="319" width="1" height="42" fill="#3fd23f"/>
<rect x="461" y="328" width="1" height="15" fill="#ff0000"/>
<rect x="462" y="316" width="1" height="13" fill="#ff0000"/>
<rect x="463" y="299" width="1" height="30" fill="#3fd23f"/>
<rect x="464" y="295" width="1" height="12" fill="#ff0000"/>
<rect x="465" y="295" width="1" height="8" fill="#3fd23f"/>
<rect x="466" y="295" width="1" height="12" fill="#3fd23f"/>
<rect x="467" y="295" width="1" height="6" fill="#3fd23f"/>
<rect x="468" y="295" width="1" height="10" fill="#ff0000"/>
<rect x="469" y="297" width="1" height="9" fill="#ff0000"/>
<rect x="470" y="300" width="1" height="12" fill="#ff0000"/>
<rect x="471" y="306" width="1" height="10" fill="#ff0000"/>
<rect x="471" y="310" width="1" height="2" fill="#3fd23f"/>
<rect x="472" y="308" width="1" height="7" fill="#ff0000"/>
<rect x="473" y="307" width="1" height="6" fill="#3fd23f"/>
<rect x="474" y="306" width="1" height="11" fill="#ff0000"/>
<rect x="475" y="313" width="1" height="15" fill="#ff0000"/>
<rect x="476" y="314" width="1" height="14" fill="#ff0000"/>
<rect x="477" y="314" width="1" height="13" fill="#ff0000"/>
<rect x="478" y="313" width="1" height="13" fill="#3fd23f"/>
<rect x="478" y="319" width="1" height="4" fill="#ff0000"/>
<rect x="479" y="315" width="1" height="9" fill="#3fd23f"/>
<rect x="479" y="317" width="1" height="4" fill="#ff0000"/>
<rect x="480" y="311" width="1" height="17" fill="#3fd23f"/>
<rect x="481" y="296" width="1" height="23" fill="#3fd23f"/>
<rect x="482" y="283" width="1" height="17" fill="#3fd23f"/>
<rect x="483" y="275" width="1" height="10" fill="#3fd23f"/>
<rect x="484" y="273" width="1" height="8" fill="#ff0000"/>
<rect x="485" y="272" width="1" height="6" fill="#3fd23f"/>
<rect x="486" y="271" width="1" height="5" fill="#ff0000"/>
<rect x="487" y="273" width="1" height="6" fill="#ff0000"/>
<rect x="488" y="273" width="1" height="8" fill="#3fd23f"/>
<rect x="489" y="270" width="1" height="8" fill="#3fd23f"/>
<rect x="490" y="267" width="1" height="6" fill="#3fd23f"/>
<rect x="491" y="264" width="1" height="9" fill="#3fd23f"/>
<rect x="492" y="260" width="1" height="10" fill="#3fd23f"/>
<rect x="493" y="253" width="1" height="13" fill="#3fd23f"/>
<rect x="493" y="256" width="1" height="5" fill="#ff0000"/>
<rect x="494" y="240" width="1" height="22" fill="#ff0000"/>
<rect x="495" y="242" width="1" height="18" fill="#3fd23f"/>
<rect x="495" y="247" width="1" height="6" fill="#ff0000"/>
<rect x="496" y="239" width="1" height="18" fill="#ff0000"/>
<rect x="497" y="244" width="1" height="13" fill="#ff0000"/>
<rect x="497" y="249" width="1" height="3" fill="#3fd23f"/>
<rect x="498" y="239" width="1" height="13" fill="#3fd23f"/>
<rect x="499" y="230" width="1" height="8" fill="#ff0000"/>
<rect x="499" y="233" width="1" height="2" fill="#3fd23f"/>
<rect x="500" y="229" width="1" height="9" fill="#ff0000"/>
<rect x="500" y="230" width="1" height="4" fill="#3fd23f"/>
<rect x="501" y="227" width="1" height="8" fill="#3fd23f"/>
<rect x="502" y="227" width="1" height="7" fill="#3fd23f"/>
<rect x="503" y="227" width="1" height="6" fill="#ff0000"/>
<rect x="504" y="228" width="1" height="4" fill="#3fd23f"/>
<rect x="505" y="226" width="1" height="5" fill="#3fd23f"/>
<rect x="506" y="225" width="1" height="5" fill="#3fd23f"/>
<rect x="507" y="227" width="1" height="6" fill="#ff0000"/>
<rect x="508" y="227" width="1" height="7" fill="#3fd23f"/>
<rect x="508" y="228" width="1" height="2" fill="#ff0000"/>
<rect x="509" y="225" width="1" height="12" fill="#3fd23f"/>
<rect x="509" y="229" width="1" height="4" fill="#ff0000"/>
<rect x="510" y="221" width="1" height="18" fill="#3fd23f"/>
<rect x="511" y="222" width="1" height="18" fill="#3fd23f"/>
<rect x="511" y="226" width="1" height="4" fill="#ff0000"/>
<rect x="512" y="224" width="1" height="17" fill="#3fd23f"/>
<rect x="513" y="225" width="1" height="18" fill="#3fd23f"/>
<rect x="513" y="230" width="1" height="8" fill="#ff0000"/>
<rect x="514" y="225" width="1" height="15" fill="#3fd23f"/>
<rect x="515" y="219" width="1" height="12" fill="#ff0000"/>
<rect x="516" y="217" width="1" height="14" fill="#3fd23f"/>
<rect x="516" y="222" width="1" height="4" fill="#ff0000"/>
<rect x="517" y="216" width="1" height="12" fill="#3fd23f"/>
<rect x="517" y="220" width="1" height="3" fill="#ff0000"/>
<rect x="518" y="216" width="1" height="10" fill="#3fd23f"/>
<rect x="519" y="214" width="1" height="8" fill="#3fd23f"/>
<rect x="520" y="213" width="1" height="8" fill="#3fd23f"/>
<rect x="520" y="214" width="1" height="3" fill="#ff0000"/>
<rect x="521" y="210" width="1" height="8" fill="#ff0000"/>
<rect x="522" y="210" width="1" height="7" fill="#ff0000"/>
<rect x="522" y="211" width="1" height="2" fill="#3fd23f"/>
<rect x="523" y="208" width="1" height="8" fill="#ff0000"/>
<rect x="524" y="208" width="1" height="6" fill="#3fd23f"/>
<rect x="525" y="202" width="1" height="8" fill="#ff0000"/>
<rect x="526" y="201" width="1" height="9" fill="#3fd23f"/>
<rect x="527" y="199" width="1" height="11" fill="#3fd23f"/>
<rect x="528" y="198" width="1" height="11" fill="#ff0000"/>
<rect x="529" y="197" width="1" height="11" fill="#ff0000"/>
<rect x="529" y="199" width="1" height="3" fill="#3fd23f"/>
<rect x="530" y="196" width="1" height="12" fill="#ff0000"/>
<rect x="531" y="194" width="1" height="10" fill="#3fd23f"/>
<rect x="532" y="192" width="1" height="9" fill="#3fd23f"/>
<rect x="533" y="185" width="1" height="13" fill="#3fd23f"/>
<rect x="534" y="179" width="1" height="16" fill="#3fd23f"/>
<rect x="535" y="178" width="1" height="11" fill="#3fd23f"/>
<rect x="536" y="181" width="1" height="13" fill="#ff0000"/>
<rect x="536" y="186" width="1" height="4" fill="#3fd23f"/>
<rect x="537" y="185" width="1" height="7" fill="#3fd23f"/>
<rect x="537" y="188" width="1" height="2" fill="#ff0000"/>
<rect x="538" y="184" width="1" height="9" fill="#ff0000"/>
<rect x="539" y="182" width="1" height="12" fill="#3fd23f"/>
<rect x="540" y="188" width="1" height="6" fill="#ff0000"/>
<rect x="541" y="190" width="1" height="5" fill="#ff0000"/>
<rect x="542" y="190" width="1" height="5" fill="#ff0000"/>
<rect x="543" y="191" width="1" height="6" fill="#3fd23f"/>
<rect x="544" y="192" width="1" height="11" fill="#ff0000"/>
<rect x="544" y="196" width="1" height="4" fill="#3fd23f"/>
<rect x="545" y="193" width="1" height="12" fill="#3fd23f"/>
<rect x="546" y="197" width="1" height="11" fill="#ff0000"/>
<rect x="547" y="176" width="1" height="24" fill="#3fd23f"/>
<rect x="548" y="189" width="1" height="11" fill="#3fd23f"/>
<rect x="549" y="194" width="1" height="9" fill="#ff0000"/>
<rect x="550" y="195" width="1" height="17" fill="#ff0000"/>
<rect x="550" y="197" width="1" height="5" fill="#3fd23f"/>
<rect x="551" y="202" width="1" height="30" fill="#ff0000"/>
<rect x="551" y="209" width="1" height="11" fill="#3fd23f"/>
<rect x="552" y="214" width="1" height="21" fill="#3fd23f"/>
<rect x="552" y="224" width="1" height="9" fill="#ff0000"/>
<rect x="553" y="213" width="1" height="12" fill="#3fd23f"/>
<rect x="554" y="214" width="1" height="12" fill="#3fd23f"/>
<rect x="554" y="218" width="1" height="3" fill="#ff0000"/>
<rect x="555" y="217" width="1" height="9" fill="#3fd23f"/>
<rect x="556" y="215" width="1" height="9" fill="#ff0000"/>
<rect x="556" y="216" width="1" height="3" fill="#3fd23f"/>
<rect x="557" y="214" width="1" height="6" fill="#ff0000"/>
<rect x="558" y="214" width="1" height="6" fill="#3fd23f"/>
<rect x="559" y="214" width="1" height="9" fill="#ff0000"/>
<rect x="559" y="217" width="1" height="2" fill="#3fd23f"/>
<rect x="560" y="219" width="1" height="7" fill="#ff0000"/>
<rect x="561" y="219" width="1" height="9" fill="#ff0000"/>
<rect x="562" y="221" width="1" height="9" fill="#ff0000"/>
<rect x="563" y="222" width="1" height="10" fill="#ff0000"/>
<rect x="563" y="225" width="1" height="2" fill="#3fd23f"/>
<rect x="564" y="214" width="1" height="7" fill="#3fd23f"/>
<rect x="565" y="199" width="1" height="14" fill="#3fd23f"/>
<rect x="565" y="204" width="1" height="3" fill="#ff0000"/>
<rect x="566" y="202" width="1" height="12" fill="#3fd23f"/>
<rect x="567" y="202" width="1" height="12" fill="#ff0000"/>
<rect x="568" y="205" width="1" height="10" fill="#ff0000"/>
<rect x="569" y="208" width="1" height="7" fill="#3fd23f"/>
<rect x="570" y="207" width="1" height="9" fill="#3fd23f"/>
<rect x="570" y="209" width="1" height="3" fill="#ff0000"/>
<rect x="571" y="208" width="1" height="9" fill="#3fd23f"/>
<rect x="572" y="206" width="1" height="7" fill="#3fd23f"/>
<rect x="572" y="208" width="1" height="2" fill="#ff0000"/>
<rect x="573" y="203" width="1" height="9" fill="#3fd23f"/>
<rect x="574" y="205" width="1" height="8" fill="#ff0000"/>
<rect x="575" y="206" width="1" height="7" fill="#3fd23f"/>
<rect x="576" y="204" width="1" height="7" fill="#3fd23f"/>
<rect x="577" y="204" width="1" height="6" fill="#3fd23f"/>
<rect x="578" y="202" width="1" height="8" fill="#3fd23f"/>
<rect x="579" y="199" width="1" height="6" fill="#ff0000"/>
<rect x="580" y="199" width="1" height="5" fill="#3fd23f"/>
<rect x="581" y="196" width="1" height="8" fill="#ff0000"/>
<rect x="582" y="188" width="1" height="18" fill="#3fd23f"/>
<rect x="582" y="193" width="1" height="8" fill="#ff0000"/>
<rect x="583" y="195" width="1" height="9" fill="#ff0000"/>
<rect x="583" y="199" width="1" height="3" fill="#3fd23f"/>
<rect x="584" y="198" width="1" height="11" fill="#ff0000"/>
<rect x="584" y="203" width="1" height="4" fill="#3fd23f"/>
<rect x="585" y="203" width="1" height="12" fill="#ff0000"/>
<rect x="585" y="205" width="1" height="4" fill="#3fd23f"/>
<rect x="586" y="209" width="1" height="14" fill="#3fd23f"/>
<rect x="586" y="214" width="1" height="4" fill="#ff0000"/>
<rect x="587" y="211" width="1" height="7" fill="#3fd23f"/>
<rect x="588" y="210" width="1" height="6" fill="#ff0000"/>
<rect x="589" y="207" width="1" height="8" fill="#3fd23f"/>
<rect x="590" y="207" width="1" height="8" fill="#ff0000"/>
<rect x="591" y="208" width="1" height="9" fill="#ff0000"/>
<rect x="591" y="211" width="1" height="4" fill="#3fd23f"/>
<rect x="592" y="208" width="1" height="8" fill="#ff0000"/>
<rect x="592" y="209" width="1" height="2" fill="#3fd23f"/>
<rect x="593" y="210" width="1" height="6" fill="#3fd23f"/>
<rect x="594" y="210" width="1" height="5" fill="#ff0000"/>
<rect x="595" y="208" width="1" height="7" fill="#ff0000"/>
<rect x="595" y="211" width="1" height="2" fill="#3fd23f"/>
<rect x="596" y="211" width="1" height="8" fill="#ff0000"/>
<rect x="596" y="213" width="1" height="2" fill="#3fd23f"/>
<rect x="597" y="213" width="1" height="10" fill="#ff0000"/>
<rect x="597" y="215" width="1" height="4" fill="#3fd23f"/>
<rect x="598" y="217" width="1" height="8" fill="#ff0000"/>
<rect x="598" y="220" width="1" height="2" fill="#3fd23f"/>
<rect x="599" y="220" width="1" height="7" fill="#3fd23f"/>
<rect x="600" y="216" width="1" height="11" fill="#ff0000"/>
<rect x="600" y="218" width="1" height="3" fill="#3fd23f"/>
<rect x="601" y="222" width="1" height="11" fill="#ff0000"/>
<rect x="602" y="219" width="1" height="12" fill="#3fd23f"/>
<rect x="602" y="222" width="1" height="5" fill="#ff0000"/>
<rect x="603" y="215" width="1" height="12" fill="#3fd23f"/>
<rect x="603" y="217" width="1" height="4" fill="#ff0000"/>
<rect x="604" y="210" width="1" height="20" fill="#ff0000"/>
<rect x="605" y="216" width="1" height="17" fill="#ff0000"/>
<rect x="606" y="217" width="1" height="13" fill="#3fd23f"/>
<rect x="607" y="211" width="1" height="12" fill="#3fd23f"/>
<rect x="608" y="210" width="1" height="5" fill="#3fd23f"/>
<rect x="609" y="206" width="1" height="8" fill="#3fd23f"/>
<rect x="610" y="199" width="1" height="8" fill="#ff0000"/>
<rect x="611" y="197" width="1" height="9" fill="#3fd23f"/>
<rect x="612" y="200" width="1" height="8" fill="#ff0000"/>
<rect x="612" y="201" width="1" height="3" fill="#3fd23f"/>
<rect x="613" y="202" width="1" height="7" fill="#ff0000"/>
<rect x="614" y="204" width="1" height="7" fill="#ff0000"/>
<rect x="615" y="207" width="1" height="5" fill="#ff0000"/>
<rect x="616" y="209" width="1" height="4" fill="#3fd23f"/>
<rect x="617" y="207" width="1" height="5" fill="#ff0000"/>
<rect x="618" y="213" width="1" height="10" fill="#3fd23f"/>
<rect x="619" y="214" width="1" height="9" fill="#3fd23f"/>
<rect x="619" y="215" width="1" height="2" fill="#ff0000"/>
<rect x="620" y="214" width="1" height="8" fill="#ff0000"/>
<rect x="620" y="216" width="1" height="3" fill="#3fd23f"/>
<rect x="621" y="217" width="1" height="9" fill="#ff0000"/>
<rect x="622" y="221" width="1" height="9" fill="#ff0000"/>
<rect x="623" y="227" width="1" height="31" fill="#3fd23f"/>
<rect x="624" y="241" width="1" height="18" fill="#ff0000"/>
<rect x="624" y="245" width="1" height="7" fill="#3fd23f"/>
<rect x="625" y="243" width="1" height="9" fill="#3fd23f"/>
<rect x="626" y="240" width="1" height="8" fill="#ff0000"/>
<rect x="627" y="241" width="1" height="7" fill="#3fd23f"/>
<rect x="627" y="243" width="1" height="2" fill="#ff0000"/>
<rect x="628" y="237" width="1" height="8" fill="#3fd23f"/>
<rect x="628" y="239" width="1" height="3" fill="#ff0000"/>
<rect x="629" y="237" width="1" height="7" fill="#3fd23f"/>
<rect x="629" y="239" width="1" height="2" fill="#ff0000"/>
<rect x="630" y="239" width="1" height="6" fill="#ff0000"/>
<rect x="631" y="240" width="1" height="6" fill="#ff0000"/>
<rect x="632" y="242" width="1" height="6" fill="#3fd23f"/>
<rect x="633" y="239" width="1" height="7" fill="#3fd23f"/>
<rect x="634" y="239" width="1" height="10" fill="#ff0000"/>
<rect x="635" y="236" width="1" height="22" fill="#ff0000"/>
<rect x="636" y="239" width="1" height="32" fill="#ff0000"/>
<rect x="636" y="252" width="1" height="8" fill="#3fd23f"/>
<rect x="637" y="252" width="1" height="17" fill="#3fd23f"/>
<rect x="638" y="259" width="1" height="13" fill="#ff0000"/>
<rect x="639" y="258" width="1" height="16" fill="#3fd23f"/>
<rect x="640" y="233" width="1" height="41" fill="#3fd23f"/>
<rect x="640" y="253" width="1" height="15" fill="#ff0000"/>
<rect x="641" y="236" width="1" height="8" fill="#3fd23f"/>
<rect x="642" y="236" width="1" height="9" fill="#3fd23f"/>
<rect x="643" y="238" width="1" height="11" fill="#ff0000"/>
<rect x="644" y="236" width="1" height="10" fill="#3fd23f"/>
<rect x="645" y="234" width="1" height="6" fill="#ff0000"/>
<rect x="646" y="230" width="1" height="8" fill="#ff0000"/>
<rect x="646" y="233" width="1" height="3" fill="#3fd23f"/>
<rect x="647" y="226" width="1" height="8" fill="#ff0000"/>
<rect x="648" y="222" width="1" height="9" fill="#3fd23f"/>
<rect x="648" y="225" width="1" height="4" fill="#ff0000"/>
<rect x="649" y="222" width="1" height="8" fill="#3fd23f"/>
<rect x="650" y="222" width="1" height="12" fill="#ff0000"/>
<rect x="651" y="222" width="1" height="10" fill="#ff0000"/>
<rect x="652" y="222" width="1" height="9" fill="#3fd23f"/>
<rect x="652" y="226" width="1" height="4" fill="#ff0000"/>
<rect x="653" y="209" width="1" height="21" fill="#ff0000"/>
<rect x="654" y="207" width="1" height="10" fill="#ff0000"/>
<rect x="655" y="200" width="1" height="15" fill="#3fd23f"/>
<rect x="655" y="204" width="1" height="7" fill="#ff0000"/>
<rect x="656" y="198" width="1" height="10" fill="#3fd23f"/>
<rect x="656" y="200" width="1" height="4" fill="#ff0000"/>
<rect x="657" y="196" width="1" height="9" fill="#3fd23f"/>
<rect x="657" y="198" width="1" height="2" fill="#ff0000"/>
<rect x="658" y="197" width="1" height="10" fill="#3fd23f"/>
<rect x="659" y="195" width="1" height="8" fill="#ff0000"/>
<rect x="660" y="195" width="1" height="11" fill="#3fd23f"/>
<rect x="661" y="198" width="1" height="10" fill="#ff0000"/>
<rect x="662" y="201" width="1" height="9" fill="#3fd23f"/>
<rect x="663" y="206" width="1" height="5" fill="#3fd23f"/>
<rect x="664" y="205" width="1" height="8" fill="#3fd23f"/>
<rect x="665" y="207" width="1" height="7" fill="#ff0000"/>
<rect x="665" y="209" width="1" height="2" fill="#3fd23f"/>
<rect x="666" y="209" width="1" height="8" fill="#ff0000"/>
<rect x="667" y="211" width="1" height="8" fill="#ff0000"/>
<rect x="668" y="212" width="1" height="5" fill="#3fd23f"/>
<rect x="669" y="210" width="1" height="8" fill="#3fd23f"/>
<rect x="669" y="212" width="1" height="3" fill="#ff0000"/>
<rect x="670" y="212" width="1" height="4" fill="#ff0000"/>
<rect x="671" y="211" width="1" height="7" fill="#ff0000"/>
<rect x="672" y="211" width="1" height="9" fill="#ff0000"/>
<rect x="673" y="218" width="1" height="47" fill="#ff0000"/>
<rect x="674" y="238" width="1" height="27" fill="#ff0000"/>
<rect x="675" y="251" width="1" height="15" fill="#3fd23f"/>
<rect x="676" y="253" width="1" height="12" fill="#3fd23f"/>
<rect x="677" y="249" width="1" height="13" fill="#3fd23f"/>
<rect x="678" y="254" width="1" height="7" fill="#3fd23f"/>
<rect x="679" y="255" width="1" height="6" fill="#ff0000"/>
<rect x="680" y="257" width="1" height="6" fill="#3fd23f"/>
<rect x="681" y="261" width="1" height="4" fill="#ff0000"/>
<rect x="682" y="261" width="1" height="6" fill="#3fd23f"/>
<rect x="683" y="260" width="1" height="5" fill="#3fd23f"/>
<rect x="684" y="261" width="1" height="3" fill="#3fd23f"/>
<rect x="685" y="260" width="1" height="3" fill="#3fd23f"/>
<rect x="686" y="260" width="1" height="5" fill="#3fd23f"/>
<rect x="687" y="259" width="1" height="4" fill="#3fd23f"/>
<rect x="688" y="256" width="1" height="9" fill="#ff0000"/>
<rect x="689" y="261" width="1" height="7" fill="#ff0000"/>
<rect x="690" y="264" width="1" height="12" fill="#ff0000"/>
<rect x="691" y="262" width="1" height="11" fill="#3fd23f"/>
<rect x="692" y="270" width="1" height="10" fill="#ff0000"/>
<rect x="692" y="272" width="1" height="3" fill="#3fd23f"/>
<rect x="693" y="271" width="1" height="11" fill="#ff0000"/>
<rect x="694" y="273" width="1" height="12" fill="#ff0000"/>
<rect x="695" y="274" width="1" height="6" fill="#3fd23f"/>
<rect x="696" y="274" width="1" height="6" fill="#3fd23f"/>
<rect x="697" y="274" width="1" height="6" fill="#ff0000"/></g>
<!-- fib -->
<line x1="321" y1="40" x2="713" y2="40" stroke="#000" stroke-width="2"/><text x="324" y="37.8" class="fib">1,7121 (100,00%)</text><line x1="321" y1="185" x2="713" y2="185" stroke="#000" stroke-width="2" stroke-dasharray="5 5"/><text x="324" y="182.8" class="fib">1,6592 (61,80%)</text><line x1="321" y1="230" x2="713" y2="230" stroke="#000" stroke-width="2" stroke-dasharray="5 5"/><text x="324" y="227.8" class="fib">1,6429 (50,00%)</text><line x1="321" y1="275" x2="713" y2="275" stroke="#000" stroke-width="2" stroke-dasharray="5 5"/><text x="324" y="272.8" class="fib">1,6265 (38,20%)</text><line x1="321" y1="330" x2="713" y2="330" stroke="#000" stroke-width="2" stroke-dasharray="5 5"/><text x="324" y="327.8" class="fib">1,6063 (23,60%)</text><line x1="321" y1="420" x2="713" y2="420" stroke="#000" stroke-width="2"/><text x="324" y="417.8" class="fib">1,5736 (0,00%)</text>
<!-- bollinger -->
<polyline points="2.0,75.0 6.0,77.0 10.0,80.0 15.0,88.0 20.0,100.0 25.0,110.0 30.0,121.0 33.3,130.0 37.5,136.0 41.1,139.0 46.7,143.3 51.1,147.8 54.4,152.2 56.7,157.2 62.2,157.2 65.5,154.4 68.9,150.5 74.4,148.9 82.2,147.2 86.7,151.1 102.2,151.1 104.4,150.3 108.9,151.1 111.7,152.0 113.3,151.1 128.9,151.1 132.2,154.2 137.8,154.4 142.2,156.7 146.7,159.4 148.9,158.3 160.0,158.3 164.4,159.4 170.0,162.2 174.4,165.5 178.9,169.4 183.3,170.5 187.2,173.3 196.7,173.3 198.9,172.2 205.5,171.7 208.9,169.4 213.3,166.7 217.8,162.8 222.2,162.2 233.3,162.2 235.5,163.3 240.0,163.3 242.2,161.1 254.4,161.1 256.7,162.2 272.2,162.2 276.7,166.1 280.0,170.0 283.3,175.5 285.5,177.8 287.8,177.2 292.2,176.3 295.5,177.2 297.8,178.3 301.1,178.3 304.4,176.7 311.1,176.7 315.5,178.3 320.0,182.2 321.0,184.0 324.4,190.0 328.9,197.8 333.3,201.0 337.8,203.9 348.9,203.9 353.3,198.9 357.8,195.0 364.4,196.7 368.9,197.8 373.3,201.1 377.8,205.5 383.3,213.3 388.9,224.4 393.3,235.5 397.8,253.3 401.1,271.1 404.4,284.4 407.5,290.0 410.0,297.5 413.8,306.3 417.5,310.0 422.5,311.3 427.5,311.9 430.0,312.3 432.1,305.0 436.3,298.8 441.5,295.0 446.7,298.8 452.9,304.0 459.2,310.2 462.3,312.3 465.4,305.0 469.6,298.8 473.8,293.5 480.0,286.3 484.2,280.0 488.3,260.0 492.5,245.4 496.7,230.8 500.8,218.3 505.0,208.0 509.2,199.6 513.3,191.3 517.5,186.0 521.7,184.6 525.8,187.0 530.0,181.9 534.2,172.5 535.0,169.7 537.8,165.5 540.6,164.2 543.3,165.5 546.1,169.7 548.9,170.4 553.0,173.2 557.2,178.0 562.8,181.5 571.1,182.2 576.7,182.5 582.2,183.9 595.0,184.2 600.6,187.0 606.1,191.8 613.1,195.3 620.0,197.4 622.8,195.3 627.0,191.1 631.1,189.7 636.7,187.6 640.8,185.6 645.0,188.3 650.0,193.3 655.0,193.3 660.0,190.8 665.0,188.3 670.0,187.5 675.0,189.2 680.0,192.5 685.0,194.2 690.0,194.2 695.0,192.0 697.5,191.3" fill="none" stroke="#7e00c8" stroke-width="1.2" shape-rendering="crispEdges"/>
<polyline points="2.2,192.2 6.7,199.0 11.1,205.5 15.6,211.0 20.0,216.7 23.3,219.4 28.9,219.4 33.3,215.5 38.9,213.3 44.4,212.2 50.0,210.5 55.5,206.7 61.1,206.1 66.7,207.8 71.1,207.8 75.5,205.5 80.0,203.3 84.4,198.9 88.9,195.5 91.1,195.5 96.7,198.3 116.7,199.4 123.3,198.3 131.1,198.3 135.6,203.3 140.0,206.1 144.4,208.3 147.8,212.2 150.0,213.3 154.4,213.3 156.7,212.2 160.0,212.2 165.5,211.7 176.7,210.5 197.8,210.5 202.2,208.3 207.8,205.5 213.3,203.3 217.8,202.8 222.2,201.3 226.7,203.1 232.2,204.4 236.7,205.5 240.0,205.5 243.3,208.3 253.3,208.3 257.8,209.4 262.2,210.5 266.7,212.2 270.0,215.5 274.4,218.3 278.3,219.4 282.2,218.3 285.0,218.9 288.9,224.4 293.3,229.4 296.7,231.0 302.0,239.0 307.8,246.7 313.3,253.3 317.8,259.4 321.0,262.0 326.7,259.4 333.3,257.2 335.0,258.3 340.0,263.3 345.0,275.0 350.0,288.3 351.3,290.0 356.3,308.8 361.3,326.3 365.0,336.3 368.8,345.0 372.5,352.5 377.5,361.3 383.8,367.5 390.0,371.3 393.8,371.3 397.5,366.9 402.5,360.0 406.3,355.6 410.0,353.1 413.8,350.6 417.5,351.9 420.0,352.5 423.8,355.0 432.5,359.4 433.1,367.5 436.3,380.0 439.4,390.4 442.5,398.8 446.7,403.0 452.9,407.0 459.2,410.2 463.3,413.3 466.5,418.5 471.7,421.7 477.9,423.8 484.2,425.8 487.3,429.0 488.9,433.3 496.7,438.4 502.2,430.0 507.8,416.7 513.3,396.7 518.9,376.7 522.2,356.7 525.5,337.8 528.9,332.2 531.4,328.6 535.6,325.8 539.7,311.9 542.5,299.4 545.3,285.6 548.0,278.6 550.8,271.7 554.3,261.9 558.5,251.5 563.3,246.0 567.5,242.5 571.7,240.4 575.8,236.9 580.0,232.8 582.2,230.1 586.4,229.4 595.0,231.4 600.6,231.4 603.3,232.8 608.9,232.1 614.4,230.7 621.4,230.0 624.2,235.6 628.3,241.1 632.5,243.9 636.7,250.8 639.4,259.2 642.9,263.3 650.0,263.3 671.7,264.2 674.2,265.8 678.3,270.0 683.3,275.0 688.3,280.0 693.3,286.7 697.5,290.8" fill="none" stroke="#7e00c8" stroke-width="1.2" shape-rendering="crispEdges"/>
<g fill="none" stroke="#6a10d0" stroke-width="1.2" stroke-linecap="butt" shape-rendering="crispEdges"><polyline points="2.0,134.0 6.7,139.5 10.0,141.7 11.0,143.4"/><polyline points="16.0,151.5 16.1,151.7 21.7,161.7 22.0,162.0"/><polyline points="30.0,171.0 38.9,175.5 40.5,176.0"/><polyline points="50.7,178.9 51.0,179.0 60.5,182.0 61.2,181.8"/><polyline points="72.0,179.1 72.2,179.0 80.0,176.7 82.2,175.5 82.5,175.5"/><polyline points="93.1,174.4 93.3,174.4 103.6,174.4"/><polyline points="116.3,175.5 116.7,175.5 126.8,175.0"/><polyline points="137.1,179.4 137.2,179.4 146.7,184.4 147.6,184.4"/><polyline points="158.2,185.1 160.0,185.3 166.7,186.5 168.7,187.1"/><polyline points="179.8,190.4 180.0,190.5 190.3,191.5"/><polyline points="202.8,190.5 212.2,185.5 213.3,185.2"/><polyline points="223.6,182.5 233.9,183.3 234.1,183.3"/><polyline points="245.8,185.2 246.1,185.3 256.3,185.3"/><polyline points="268.8,188.3 268.9,188.3 278.3,193.3 279.2,194.0"/><polyline points="288.0,200.1 297.8,205.0 298.5,205.6"/><polyline points="306.7,212.2 316.1,217.8 317.2,218.5"/><polyline points="325.0,223.7 330.0,227.0 335.5,231.0"/><polyline points="343.3,236.7 351.1,245.5 352.2,247.2"/><polyline points="357.8,255.5 365.5,264.4 366.5,266.0"/><polyline points="372.2,275.5 378.9,284.4 380.3,286.0"/><polyline points="386.7,293.3 392.5,302.5 393.3,303.8"/><polyline points="400.0,313.9 405.6,320.6 408.4,324.4"/><polyline points="416.7,331.2 423.8,333.1 427.2,334.8"/><polyline points="434.0,338.2 434.2,338.3 441.5,346.7 443.4,348.4"/><polyline points="449.0,353.3 449.8,354.0 458.1,361.3 459.5,361.0"/><polyline points="467.8,359.3 468.5,359.2 477.9,355.0 478.3,354.7"/><polyline points="486.7,347.4 490.0,344.6 493.3,340.0 494.8,337.4"/><polyline points="499.5,328.9 503.3,318.9 503.5,318.4"/><polyline points="507.8,306.7 513.0,296.7 513.2,296.2"/><polyline points="516.7,285.5 522.2,276.7 522.6,275.0"/><polyline points="525.5,262.0 532.2,252.0 532.5,251.5"/><polyline points="537.8,243.6 538.5,242.6 542.5,233.1"/><polyline points="550.0,222.9 550.3,222.5 557.9,215.5 560.4,214.9"/><polyline points="567.0,213.1 568.3,212.8 577.5,209.3"/><polyline points="590.7,206.6 595.0,207.0 600.6,209.2 601.2,209.4"/><polyline points="612.3,213.3 612.4,213.3 622.1,214.0 622.8,214.2"/><polyline points="632.3,217.4 632.5,217.5 641.5,224.4 642.8,225.0"/><polyline points="651.7,229.2 662.2,227.7"/><polyline points="676.0,229.7 684.2,234.2 686.5,235.3"/><polyline points="694.0,239.1 694.2,239.2 697.5,240.8"/></g>
<polyline points="2.2,182.2 6.7,185.5 11.1,191.0 15.6,196.7 20.0,202.2 23.3,206.7 25.5,209.4 27.8,202.2 30.0,192.2 33.3,183.3 36.7,178.9 41.1,173.3 44.4,168.9 46.7,167.2 50.0,170.0 54.4,172.2 58.9,175.5 61.7,178.3 64.4,175.5 66.7,168.9 70.0,165.5 74.4,163.9 77.8,163.3 80.0,163.9 82.2,165.5 85.5,175.5 88.9,184.4 92.2,191.1 95.5,190.5 98.9,186.7 102.2,178.9 105.5,174.4 108.9,172.2 112.2,169.4 114.4,172.2 116.7,176.7 120.0,176.7 124.4,176.7 128.9,177.8 132.2,183.3 135.6,190.0 138.9,198.9 142.2,201.1 145.6,201.1 148.9,206.7 152.2,203.3 156.7,197.8 160.0,194.4 164.4,187.8 170.0,182.2 174.4,186.7 180.0,190.0 184.4,192.2 187.8,191.1 191.1,185.5 194.4,182.2 198.9,181.7 202.2,182.8 204.4,183.3 207.8,176.7 212.2,170.0 216.7,164.4 218.9,166.7 222.2,174.4 226.7,182.2 231.1,186.7 235.5,190.0 240.0,192.2 243.3,200.5 247.8,198.9 252.2,198.3 256.7,193.3 260.0,191.1 263.3,192.2 266.7,198.9 270.0,204.4 274.4,207.8 278.9,210.0 280.0,212.0 284.4,216.7 288.9,223.3 294.4,227.8 299.4,225.5 302.2,232.2 305.5,240.0 310.0,243.3 315.5,247.8 320.0,251.7 322.2,250.0 325.5,242.2 330.0,236.7 334.4,235.5 337.8,237.8 338.3,250.0 341.7,260.0 345.0,270.0 348.3,280.0 351.7,291.7 355.0,305.0 358.3,318.3 361.7,328.3 365.0,335.0 368.3,339.2 371.7,340.8 375.0,339.2 378.3,335.8 381.7,330.0 385.0,328.3 388.3,330.0 390.0,333.8 393.8,332.5 396.3,332.5 400.0,336.3 403.8,336.3 407.5,336.3 410.6,337.5 412.5,342.5 415.0,347.5 418.8,350.0 422.5,351.3 426.3,350.0 430.0,349.4 432.1,350.8 434.2,367.5 436.3,380.0 439.4,392.5 442.5,396.7 448.8,394.6 455.0,391.5 459.2,388.3 461.3,373.8 463.3,348.8 466.5,325.8 469.6,311.3 473.8,306.0 477.9,307.0 481.0,303.0 484.2,292.5 488.3,280.0 490.4,268.3 494.6,251.7 498.8,235.0 502.9,224.6 507.1,220.4 511.3,219.4 515.4,220.4 519.6,216.3 523.8,210.0 527.9,204.8 532.1,197.5 535.0,185.0 539.2,184.3 543.3,185.7 547.5,187.8 550.3,194.7 553.0,201.7 555.8,208.6 560.0,212.8 562.8,218.3 564.2,220.4 566.9,215.5 571.1,212.8 575.3,210.0 579.4,207.2 582.9,204.4 586.4,207.2 590.6,210.0 595.0,212.0 599.2,214.7 603.3,221.7 606.1,221.7 610.3,216.1 614.4,210.6 618.6,212.0 622.8,218.9 627.0,232.8 631.1,239.7 635.3,246.7 639.4,256.4 642.2,253.6 646.4,250.8 650.0,241.7 653.3,228.3 657.5,213.3 661.7,205.8 666.7,207.5 671.7,210.8 674.2,216.7 676.7,231.7 680.0,243.3 683.3,251.7 686.7,257.5 690.0,261.7 693.3,270.0 697.5,276.7" fill="none" stroke="#e87070" stroke-width="1" shape-rendering="crispEdges"/>
<!-- notes -->
<text x="320.5" y="120.8" class="note" font-size="15.85">zona de resistencia al 62% de retroceso</text>
<text x="541" y="120.8" class="note" font-size="14.35">en banda de desviaion tipica</text>
<text x="2" y="453.5" font-size="10.75" fill="#111">© IT-Finance.com</text>
<!-- rsi -->
<line x1="1" y1="536.5" x2="922" y2="536.5" stroke="#3434d4" stroke-width="1"/>
<line x1="1" y1="623.5" x2="922" y2="623.5" stroke="#3434d4" stroke-width="1"/>
<polygon points="65.7,536.5 66.0,532.2 66.2,536.5" fill="#c9a3b3"/><polygon points="461.2,536.5 461.7,521.5 463.3,510.4 465.1,516.7 466.5,514.6 467.2,518.0 468.3,513.2 469.3,521.5 470.3,527.8 470.6,536.5" fill="#c9a3b3"/><polygon points="482.1,536.5 482.5,527.8 483.6,533.3 484.6,532.6 486.0,533.3 486.6,536.5" fill="#c9a3b3"/><polygon points="488.2,536.5 488.8,533.3 489.9,531.1 490.7,536.5" fill="#c9a3b3"/><polygon points="491.6,536.5 492.8,527.2 494.1,519.5 495.3,512.6 496.3,535.0 496.4,536.5" fill="#c9a3b3"/><polygon points="498.5,536.5 499.0,529.2 500.2,532.1 501.3,529.2 502.4,536.5" fill="#c9a3b3"/><polygon points="502.7,536.5 503.9,534.0 505.4,536.0 505.8,536.5" fill="#c9a3b3"/><polygon points="507.7,536.5 508.0,536.0 508.1,536.5" fill="#c9a3b3"/><polygon points="533.0,536.5 533.1,535.0 534.2,532.1 534.5,536.5" fill="#c9a3b3"/><polygon points="654.8,536.5 655.1,535.5 656.2,528.9 657.8,531.1 659.3,527.8 659.9,536.5" fill="#c9a3b3"/><polygon points="133.8,623.5 134.6,632.2 135.2,623.5" fill="#9ccf9c"/><polygon points="241.5,623.5 241.6,626.7 241.8,623.5" fill="#9ccf9c"/><polygon points="281.5,623.5 281.6,626.7 281.7,623.5" fill="#9ccf9c"/><polygon points="337.6,623.5 337.6,623.9 338.3,635.7 339.4,629.4 340.2,623.5" fill="#9ccf9c"/><polygon points="340.6,623.5 341.4,630.1 342.5,623.9 342.6,623.5" fill="#9ccf9c"/><polygon points="343.9,623.5 344.6,630.1 345.6,623.5" fill="#9ccf9c"/><polygon points="346.1,623.5 346.7,623.9 348.0,625.3 349.4,636.4 350.6,643.3 351.5,639.9 352.5,646.1 353.6,651.0 354.7,635.0 355.7,628.0 356.7,639.9 357.8,629.4 358.2,623.5" fill="#9ccf9c"/><polygon points="370.1,623.5 370.3,626.0 370.4,623.5" fill="#9ccf9c"/><polygon points="392.1,623.5 392.5,630.1 392.9,623.5" fill="#9ccf9c"/><polygon points="433.2,623.5 433.5,642.0 434.4,623.5" fill="#9ccf9c"/><polygon points="601.0,623.5 601.1,624.4 601.2,623.5" fill="#9ccf9c"/><polygon points="623.2,623.5 623.8,636.7 625.1,624.4 625.2,623.5" fill="#9ccf9c"/><polygon points="673.8,623.5 674.0,627.8 675.5,636.7 676.3,623.5" fill="#9ccf9c"/><polygon points="689.3,623.5 689.6,626.7 689.8,623.5" fill="#9ccf9c"/>
<polyline points="2.2,608.9 3.3,600.0 4.9,621.0 6.2,585.5 7.8,595.5 10.0,617.8 12.2,601.0 13.3,606.7 15.1,591.0 16.7,604.4 18.9,608.9 21.1,608.9 22.2,610.0 23.3,597.8 24.4,602.2 26.7,560.0 27.8,551.0 28.9,557.8 30.4,539.5 32.2,542.2 33.8,547.8 35.1,550.0 36.7,562.2 38.2,556.7 40.0,554.4 41.1,544.4 42.7,537.3 44.4,551.0 45.6,543.3 46.7,577.8 48.4,584.4 50.0,598.9 51.6,586.7 53.3,593.3 55.1,584.4 56.7,597.8 58.2,584.4 60.0,604.4 61.6,615.5 62.9,564.4 64.4,556.7 66.0,532.2 67.8,571.1 69.3,566.7 70.7,575.5 72.2,568.9 74.4,577.8 76.7,564.4 77.8,586.7 80.0,591.1 81.8,596.7 83.3,587.8 85.5,600.0 88.4,614.4 90.0,603.3 92.2,593.3 94.4,582.2 96.2,586.7 97.8,561.1 99.6,574.4 101.1,554.4 102.7,563.3 104.4,561.1 106.2,564.4 108.2,571.1 110.0,567.8 112.2,555.5 113.8,576.7 115.1,614.4 117.2,593.3 119.0,571.1 120.6,573.3 122.1,584.4 123.9,592.2 125.7,575.5 127.2,577.8 128.8,588.9 130.1,598.9 131.7,611.1 133.2,617.8 134.6,632.2 136.1,608.9 138.3,602.2 139.9,604.4 141.7,601.1 143.4,586.7 145.0,591.1 146.6,606.7 147.9,621.1 149.4,580.0 151.0,583.3 152.3,560.0 153.9,577.8 155.4,571.1 157.2,568.9 158.3,553.3 159.9,553.3 161.7,558.9 163.4,558.9 165.0,568.9 166.6,566.7 168.3,542.2 169.4,555.5 170.6,588.9 171.7,577.8 173.2,585.5 175.0,595.5 176.8,588.9 178.3,593.3 179.9,585.5 181.2,572.2 182.3,605.5 183.9,588.9 185.7,580.0 187.2,576.7 188.8,557.8 190.5,547.8 192.1,560.0 193.9,577.8 195.0,566.7 196.8,573.3 198.3,571.1 200.5,573.3 202.1,576.7 203.9,597.8 205.7,571.1 207.2,557.8 208.8,543.3 210.1,547.8 211.7,537.8 213.2,543.3 215.0,543.3 216.8,550.0 219.0,584.4 221.2,613.3 222.8,620.0 224.3,600.0 226.1,593.3 227.9,602.2 229.4,593.3 231.8,591.1 233.3,595.5 234.9,588.9 236.2,598.9 237.8,591.1 239.3,576.7 240.4,600.0 241.6,626.7 242.9,604.4 244.4,593.3 245.5,576.7 247.3,578.9 248.9,584.4 250.4,578.9 252.2,583.3 253.3,571.1 254.4,552.2 256.0,571.1 257.1,560.0 258.2,545.5 259.3,582.2 260.4,567.8 261.8,588.9 263.3,573.3 264.9,595.5 266.7,597.8 268.2,604.4 270.0,595.5 271.8,597.8 273.8,592.2 275.5,588.9 277.1,595.5 278.9,602.2 280.4,593.3 281.6,626.7 282.7,584.4 283.6,571.1 284.4,584.4 285.5,600.0 286.7,608.9 287.8,588.9 288.9,600.0 291.1,600.0 293.3,597.8 294.9,580.0 296.7,578.9 298.4,568.9 300.0,602.2 301.1,617.8 302.2,597.8 303.8,615.5 305.1,597.8 306.7,586.7 308.9,588.9 311.1,591.1 312.7,600.0 314.0,593.3 315.3,587.8 316.7,615.5 318.2,593.3 319.3,597.8 320.7,577.8 321.8,571.1 323.3,565.5 324.9,558.2 326.2,564.4 327.8,564.4 329.3,568.9 330.0,567.6 331.4,571.8 332.8,573.2 333.9,578.0 334.9,587.8 335.6,596.8 336.3,592.0 337.2,584.3 337.6,623.9 338.3,635.7 339.4,629.4 340.4,621.8 341.4,630.1 342.5,623.9 343.5,619.7 344.6,630.1 345.6,623.2 346.7,623.9 348.0,625.3 349.4,636.4 350.6,643.3 351.5,639.9 352.5,646.1 353.6,651.0 354.7,635.0 355.7,628.0 356.7,639.9 357.8,629.4 358.5,618.3 359.4,614.9 360.6,611.4 361.7,612.1 362.6,606.5 363.6,612.8 364.7,612.1 365.8,614.2 366.8,613.5 367.8,616.3 368.9,612.8 369.6,614.9 370.3,626.0 371.0,596.8 371.9,594.0 373.0,582.2 373.7,578.0 374.7,594.7 375.6,581.5 376.5,593.3 377.5,576.7 378.6,575.3 380.0,568.3 381.4,557.0 383.5,567.0 384.9,578.0 386.3,587.8 387.6,598.9 388.6,612.8 389.7,607.9 391.1,608.6 392.5,630.1 393.5,612.8 394.3,566.3 395.3,576.7 396.4,571.1 397.4,577.4 398.0,567.6 399.2,587.8 400.6,605.1 401.9,592.0 403.3,575.3 404.3,570.4 405.7,604.4 407.1,587.8 408.5,575.3 409.6,568.0 410.6,582.2 411.9,601.7 413.0,612.1 414.0,601.7 415.4,600.3 416.8,594.7 418.2,591.9 419.6,586.4 421.0,593.3 422.4,583.6 424.2,553.5 425.1,585.0 426.1,594.7 427.2,604.4 428.3,574.6 429.3,578.0 430.3,589.2 431.4,585.0 432.5,587.8 433.5,642.0 434.4,622.5 435.6,616.9 436.9,618.3 438.3,615.5 439.7,614.2 440.8,595.8 442.2,591.7 443.2,597.5 445.0,584.7 447.1,580.5 448.5,583.3 449.9,577.1 451.2,591.0 452.6,575.7 454.4,572.9 456.1,577.8 457.5,583.3 458.5,595.8 459.6,579.2 460.3,583.3 461.0,541.7 461.7,521.5 463.3,510.4 465.1,516.7 466.5,514.6 467.2,518.0 468.3,513.2 469.3,521.5 470.3,527.8 471.4,555.5 472.5,557.0 473.5,554.9 474.4,550.7 475.3,561.1 476.3,580.5 477.2,570.8 478.3,582.0 479.7,572.2 480.7,575.7 481.8,541.7 482.5,527.8 483.6,533.3 484.6,532.6 486.0,533.3 487.4,541.0 488.8,533.3 489.9,531.1 491.2,539.9 492.8,527.2 494.1,519.5 495.3,512.6 496.3,535.0 497.6,548.6 499.0,529.2 500.2,532.1 501.3,529.2 502.5,537.0 503.9,534.0 505.4,536.0 506.8,537.9 508.0,536.0 509.3,544.7 510.7,568.1 511.8,554.5 512.6,576.8 513.8,564.2 515.2,569.1 516.5,554.5 518.1,553.5 519.6,552.5 521.0,546.7 522.4,545.7 523.5,560.3 524.9,546.7 526.2,545.7 527.8,537.9 529.2,549.6 530.3,537.9 531.7,564.2 533.1,535.0 534.2,532.1 535.2,544.7 536.6,564.2 537.9,554.5 539.1,552.5 540.4,564.2 541.8,567.1 543.4,572.0 544.9,585.6 546.3,577.8 547.6,571.0 549.2,577.8 550.2,591.4 551.5,620.6 553.1,599.2 554.6,607.0 556.0,595.3 558.0,587.5 559.9,597.3 561.5,601.2 562.8,609.0 564.2,573.9 565.4,562.3 566.7,570.0 568.3,581.7 569.6,573.0 571.2,581.7 572.5,569.1 574.1,568.1 575.5,569.1 577.0,578.8 578.4,564.2 579.7,556.4 580.9,560.3 582.3,542.8 583.6,564.2 585.2,585.6 586.6,604.1 587.7,587.5 589.1,591.4 590.4,583.7 592.0,589.5 593.4,581.7 594.9,576.8 596.3,587.5 597.8,603.1 599.2,606.0 600.0,613.3 601.1,624.4 602.7,606.7 604.4,574.4 605.5,604.4 607.1,568.9 608.9,566.7 610.4,555.5 611.6,554.4 612.9,564.4 614.4,566.7 616.0,575.5 617.8,588.9 618.9,602.2 620.0,588.9 621.6,600.0 622.7,611.1 623.8,636.7 625.1,624.4 626.7,608.9 628.2,606.7 630.0,595.5 631.6,603.3 633.3,601.1 634.4,616.7 635.5,587.8 636.7,623.3 638.2,606.7 640.0,615.5 640.7,567.8 642.2,573.3 643.8,578.9 645.5,566.7 647.3,557.8 648.9,553.3 650.4,552.9 652.2,560.0 653.3,542.2 655.1,535.5 656.2,528.9 657.8,531.1 659.3,527.8 660.4,544.4 661.8,555.5 663.3,558.9 664.9,566.7 666.7,575.5 667.8,588.9 668.9,583.3 670.7,581.1 671.6,576.7 672.7,600.0 674.0,627.8 675.5,636.7 677.1,608.9 678.9,615.5 681.1,614.4 683.3,618.9 684.9,610.0 686.7,611.1 688.2,610.0 689.6,626.7 691.1,602.2 692.4,620.0 694.0,613.3 695.5,615.5 696.7,620.0 697.8,610.0" fill="none" stroke="#111" stroke-width="1.05" stroke-linejoin="round"/>
<text x="563" y="495.5" class="note" font-size="15.8">sobrecompra en RSI</text>
<!-- panel borders -->
<rect x="0.5" y="20.5" width="922" height="436" fill="none" stroke="#6f8592"/>
<rect x="0.5" y="459.5" width="922" height="240" fill="none" stroke="#6f8592"/>
<line x1="0.5" y1="0" x2="0.5" y2="720" stroke="#6f8592"/>
<line x1="979.5" y1="0" x2="979.5" y2="720" stroke="#6f8592"/>
<line x1="0" y1="719.5" x2="980" y2="719.5" stroke="#6f8592"/>
<!-- ticks -->
<g stroke="#6f8592" stroke-width="1" shape-rendering="crispEdges"><line x1="922" y1="431.5" x2="925" y2="431.5"/><line x1="922" y1="403.5" x2="927" y2="403.5"/><line x1="922" y1="376.5" x2="925" y2="376.5"/><line x1="922" y1="348.5" x2="927" y2="348.5"/><line x1="922" y1="321.5" x2="925" y2="321.5"/><line x1="922" y1="293.5" x2="927" y2="293.5"/><line x1="922" y1="265.5" x2="925" y2="265.5"/><line x1="922" y1="238.5" x2="927" y2="238.5"/><line x1="922" y1="210.5" x2="925" y2="210.5"/><line x1="922" y1="183.5" x2="927" y2="183.5"/><line x1="922" y1="155.5" x2="925" y2="155.5"/><line x1="922" y1="128.5" x2="927" y2="128.5"/><line x1="922" y1="100.5" x2="925" y2="100.5"/><line x1="922" y1="73.5" x2="927" y2="73.5"/><line x1="922" y1="46.5" x2="925" y2="46.5"/><line x1="922" y1="688.5" x2="927" y2="688.5"/><line x1="922" y1="666.5" x2="927" y2="666.5"/><line x1="922" y1="645.5" x2="927" y2="645.5"/><line x1="922" y1="623.5" x2="927" y2="623.5"/><line x1="922" y1="601.5" x2="927" y2="601.5"/><line x1="922" y1="580.5" x2="927" y2="580.5"/><line x1="922" y1="558.5" x2="927" y2="558.5"/><line x1="922" y1="536.5" x2="927" y2="536.5"/><line x1="922" y1="514.5" x2="927" y2="514.5"/><line x1="922" y1="493.5" x2="927" y2="493.5"/><line x1="922" y1="471.5" x2="927" y2="471.5"/><line x1="17.5" y1="700" x2="17.5" y2="704"/><line x1="52.5" y1="700" x2="52.5" y2="704"/><line x1="87.5" y1="700" x2="87.5" y2="704"/><line x1="106.5" y1="700" x2="106.5" y2="704"/><line x1="141.5" y1="700" x2="141.5" y2="704"/><line x1="176.5" y1="700" x2="176.5" y2="704"/><line x1="212.5" y1="700" x2="212.5" y2="704"/><line x1="264.5" y1="700" x2="264.5" y2="704"/><line x1="292.5" y1="700" x2="292.5" y2="704"/><line x1="327.5" y1="700" x2="327.5" y2="704"/><line x1="345.5" y1="700" x2="345.5" y2="704"/><line x1="381.5" y1="700" x2="381.5" y2="704"/><line x1="416.5" y1="700" x2="416.5" y2="704"/><line x1="434.5" y1="700" x2="434.5" y2="704"/><line x1="469.5" y1="700" x2="469.5" y2="704"/><line x1="504.5" y1="700" x2="504.5" y2="704"/><line x1="522.5" y1="700" x2="522.5" y2="704"/><line x1="558.5" y1="700" x2="558.5" y2="704"/><line x1="593.5" y1="700" x2="593.5" y2="704"/><line x1="611.5" y1="700" x2="611.5" y2="704"/><line x1="646.5" y1="700" x2="646.5" y2="704"/><line x1="681.5" y1="700" x2="681.5" y2="704"/><line x1="704.5" y1="700" x2="704.5" y2="704"/><line x1="739.5" y1="700" x2="739.5" y2="704"/><line x1="774.5" y1="700" x2="774.5" y2="704"/><line x1="797.5" y1="700" x2="797.5" y2="704"/><line x1="832.5" y1="700" x2="832.5" y2="704"/><line x1="867.5" y1="700" x2="867.5" y2="704"/><line x1="890.5" y1="700" x2="890.5" y2="704"/></g>
<text x="929" y="77.8" class="ab">1,7</text><text x="929" y="132.1" class="an">1,68</text><text x="929" y="187.1" class="an">1,66</text><text x="929" y="242.1" class="an">1,64</text><text x="929" y="297.1" class="an">1,62</text><text x="929" y="352.8" class="ab">1,6</text><text x="929" y="407.1" class="an">1,58</text>
<text x="929" y="692.6" class="ab">0</text><text x="929" y="670.2" class="an">10</text><text x="929" y="648.5" class="an">20</text><text x="929" y="626.8" class="an">30</text><text x="929" y="605.1" class="an">40</text><text x="929" y="584.1" class="ab">50</text><text x="929" y="561.7" class="an">60</text><text x="929" y="540.0" class="an">70</text><text x="929" y="518.3" class="an">80</text><text x="929" y="496.6" class="an">90</text><text x="929" y="475.6" class="ab">100</text>
<text x="17.5" y="715.5" class="xn" text-anchor="middle">12</text><text x="52.5" y="715.5" class="xn" text-anchor="middle">14</text><text x="87.5" y="715.5" class="xn" text-anchor="middle">16</text><text x="106.5" y="715.5" class="xn" text-anchor="middle">19</text><text x="141.5" y="715.5" class="xn" text-anchor="middle">21</text><text x="176.5" y="715.5" class="xn" text-anchor="middle">23</text><text x="212.5" y="715.5" class="xn" text-anchor="middle">28</text><text x="264.5" y="716" class="xb" text-anchor="middle">2017</text><text x="292.5" y="715.5" class="xn" text-anchor="middle">04</text><text x="327.5" y="715.5" class="xn" text-anchor="middle">06</text><text x="345.5" y="715.5" class="xn" text-anchor="middle">09</text><text x="381.5" y="715.5" class="xn" text-anchor="middle">11</text><text x="416.5" y="715.5" class="xn" text-anchor="middle">13</text><text x="434.5" y="715.5" class="xn" text-anchor="middle">16</text><text x="469.5" y="715.5" class="xn" text-anchor="middle">18</text><text x="504.5" y="715.5" class="xn" text-anchor="middle">20</text><text x="522.5" y="715.5" class="xn" text-anchor="middle">23</text><text x="558.5" y="715.5" class="xn" text-anchor="middle">25</text><text x="593.5" y="715.5" class="xn" text-anchor="middle">27</text><text x="611.5" y="715.5" class="xn" text-anchor="middle">30</text><text x="646.5" y="716" class="xb" text-anchor="middle">feb</text><text x="681.5" y="715.5" class="xn" text-anchor="middle">03</text><text x="704.5" y="715.5" class="xn" text-anchor="middle">06</text><text x="739.5" y="715.5" class="xn" text-anchor="middle">08</text><text x="774.5" y="715.5" class="xn" text-anchor="middle">10</text><text x="797.5" y="715.5" class="xn" text-anchor="middle">13</text><text x="832.5" y="715.5" class="xn" text-anchor="middle">15</text><text x="867.5" y="715.5" class="xn" text-anchor="middle">17</text><text x="890.5" y="715.5" class="xn" text-anchor="middle">20</text>
<!-- legend row -->
<g>
<rect x="1" y="21" width="257" height="14" fill="url(#leg)"/>
<g stroke="#8ea3ae" shape-rendering="crispEdges">
<line x1="35.5" y1="21" x2="35.5" y2="35"/><line x1="78.5" y1="21" x2="78.5" y2="35"/><line x1="115.5" y1="21" x2="115.5" y2="35"/><line x1="200.5" y1="21" x2="200.5" y2="35"/><line x1="257.5" y1="21" x2="257.5" y2="35"/>
<line x1="1" y1="34.5" x2="258" y2="34.5"/></g>
<text x="3" y="30.8" class="lg" fill="#000">Precio</text>
<text x="38" y="30.8" class="lg" fill="#9a00cc">Boll sup</text>
<text x="81" y="30.8" class="lg" fill="#9a00cc">Boll inf</text>
<text x="118" y="30.8" class="lg" fill="#9a00cc">Boll media (89 2)</text>
<text x="203" y="30.8" class="lg" fill="#ec6a6a">DEMA (34)</text>
</g>
<!-- RSI legend -->
<rect x="1" y="460" width="43.5" height="13.5" fill="url(#leg2)"/>
<path d="M44.5 460V473.5H1" fill="none" stroke="#7f97a3"/>
<text x="3" y="469.9" class="lg" fill="#000">RSI (14)</text>
<!-- header content -->
<g>
<line x1="6.5" y1="8" x2="6.5" y2="19" stroke="#d03030"/>
<rect x="3.5" y="10.5" width="6" height="6" fill="#f07070" stroke="#d03030"/>
<line x1="14.5" y1="3" x2="14.5" y2="19" stroke="#10a010"/>
<rect x="11.5" y="6.5" width="6" height="9.5" fill="#60e060" stroke="#10a010"/>
</g>
<text x="23" y="15" class="hd">GBP/CAD Mini (-)</text>
<text x="121.5" y="15" class="hd">1 hora</text>
<text x="164.5" y="15" class="hd">1,62625 (-0,30%)</text>
<text x="257" y="15" class="hd">03-feb-2017</text>
<text x="976" y="15" class="hd" text-anchor="end" style="font-size:11.25px">IT-Finance.com</text>
<!-- value labels -->
<g font-size="10.67">
<line x1="922" y1="191.5" x2="928" y2="191.5" stroke="#8800cc"/>
<rect x="927.5" y="183.5" width="42" height="15" fill="url(#lbl)" stroke="#8a97a6"/>
<text x="929.4" y="195" fill="#8800cc">1,65708</text>
<line x1="922" y1="240.5" x2="928" y2="240.5" stroke="#8800cc"/>
<rect x="927.5" y="233.5" width="42" height="15" fill="url(#lbl)" stroke="#8a97a6"/>
<text x="929.4" y="245" fill="#8800cc">1,63890</text>
<line x1="922" y1="277.5" x2="928" y2="277.5" stroke="#000"/>
<line x1="922" y1="278.5" x2="928" y2="278.5" stroke="#e87878"/>
<rect x="927.5" y="272.5" width="42" height="12" fill="url(#lbl)" stroke="#8a97a6"/>
<text x="929.4" y="283" fill="#e87878">1,62544</text>
<rect x="927.5" y="262.5" width="42" height="14" fill="url(#gold)" stroke="#8592a0"/>
<text x="929.4" y="274" fill="#000">1,62625</text>
<line x1="922" y1="291.5" x2="928" y2="291.5" stroke="#8800cc"/>
<rect x="927.5" y="284.5" width="42" height="15" fill="url(#lbl)" stroke="#8a97a6"/>
<text x="929.4" y="296" fill="#8800cc">1,62071</text>
<line x1="922" y1="610.5" x2="928" y2="610.5" stroke="#000"/>
<rect x="927.5" y="602.5" width="36" height="15" fill="url(#lbl)" stroke="#8a97a6"/>
<text x="929.5" y="614" fill="#000">35,933</text>
</g>
</svg>
</body></html>
